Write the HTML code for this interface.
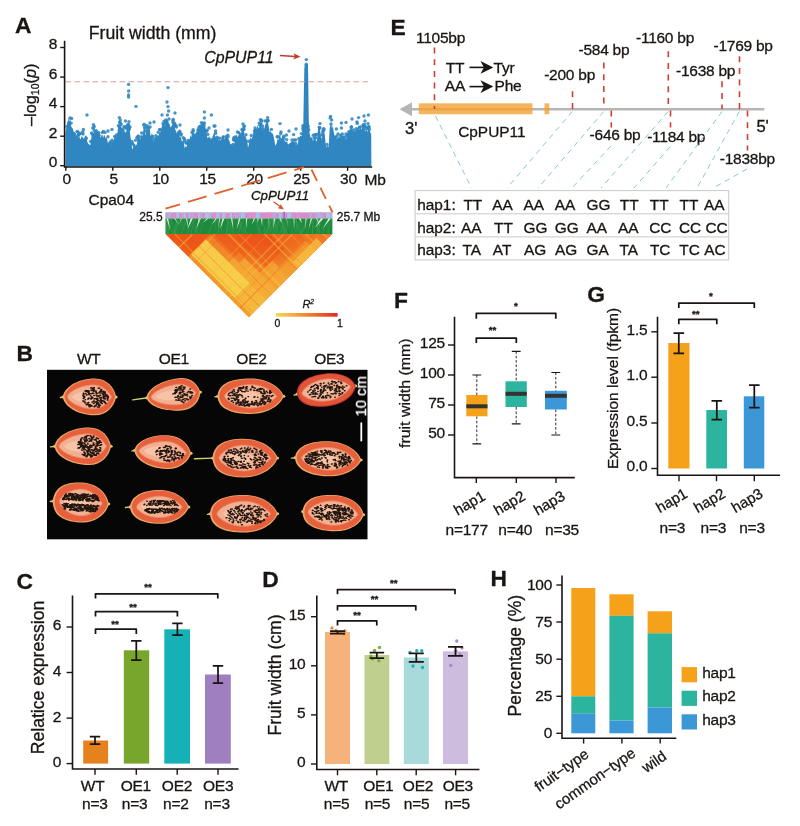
<!DOCTYPE html>
<html lang="en"><head><meta charset="utf-8"><title>CpPUP11 fruit width figure</title>
<style>
html,body{margin:0;padding:0;background:#fff}
body{width:800px;height:826px;overflow:hidden}
svg{display:block}
text{font-family:"Liberation Sans",Arial,Helvetica,sans-serif;fill:#1a1513;stroke:#1a1513;stroke-width:0.3px}
.b{font-weight:bold;font-size:22.8px}
.t{font-size:15.5px;letter-spacing:-0.25px}
.i{font-style:italic}
.ax{stroke:#1a1513;stroke-width:1.6;fill:none;stroke-linecap:square}
.tk{stroke:#1a1513;stroke-width:1.4;fill:none}
.br{stroke:#1a1513;stroke-width:1.75;fill:none;stroke-linejoin:round}
.eb{stroke:#1a1513;stroke-width:1.75;fill:none}
.st{font-size:11px;font-weight:bold}
</style></head><body>
<svg width="800" height="826" viewBox="0 0 800 826">
<rect width="800" height="826" fill="#fff"/>
<g id="panelA"><text class="b" x="15" y="33.2">A</text><text x="88.7" y="38.5" font-size="17.7">Fruit width (mm)</text><text transform="translate(35.6,126) rotate(-90)" font-size="16.3">–log<tspan font-size="10.5" dy="3.2">10</tspan><tspan dy="-3.2">(</tspan><tspan class="i">p</tspan>)</text><path d="M65.6 166.4L65.6 132.5L66.4 127.6L67.2 122.7L68 121.5L68.8 117.4L69.6 122.2L70.4 118L71.2 126.2L72 127.9L72.8 128.4L73.6 132.1L74.4 132.6L75.2 136.6L76 135.8L76.8 135.1L77.6 132.3L78.4 137.7L79.2 136.6L80 138.2L80.8 139.4L81.6 136L82.4 136.9L83.2 137.7L84 139.2L84.8 136.6L85.6 135.5L86.4 135.8L87.2 141.2L88 143.4L88.8 144L89.6 145L90.4 145L91.2 138.7L92 132.1L92.8 133.6L93.6 132.9L94.4 130.6L95.2 130.3L96 132.7L96.8 132.5L97.6 133.3L98.4 135L99.2 133.8L100 136.7L100.8 137.8L101.6 134.7L102.4 134.9L103.2 138L104 134.7L104.8 135.8L105.6 138.5L106.4 136.4L107.2 139.5L108 143.8L108.8 142.7L109.6 141L110.4 145.7L111.2 145.3L112 142.9L112.8 142.5L113.6 141.1L114.4 140L115.2 139L116 135.4L116.8 139.3L117.6 131.3L118.4 124L119.2 125L120 123.5L120.8 122.8L121.6 127.8L122.4 132.5L123.2 129.1L124 132.5L124.8 129.2L125.6 133.3L126.4 131L127.2 128.5L128 129.8L128.8 130.7L129.6 128.6L130.4 136.1L131.2 141.6L132 147.6L132.8 149.7L133.6 144.3L134.4 144.9L135.2 146.5L136 145.3L136.8 144.4L137.6 139.5L138.4 138.4L139.2 139.8L140 140.2L140.8 138.4L141.6 134.6L142.4 136.5L143.2 131.7L144 124.7L144.8 128.7L145.6 135.3L146.4 132.6L147.2 131.6L148 125.8L148.8 127.2L149.6 126.2L150.4 135.3L151.2 135.9L152 131.9L152.8 139.6L153.6 142.1L154.4 141.9L155.2 137.7L156 137.3L156.8 138L157.6 136.4L158.4 137.3L159.2 132.6L160 132.5L160.8 131L161.6 127.4L162.4 123.9L163.2 121.4L164 124.7L164.8 127.6L165.6 124.3L166.4 123.9L167.2 120L168 119.1L168.8 123.4L169.6 123.9L170.4 127.3L171.2 126.7L172 125.1L172.8 123.8L173.6 122.8L174.4 125L175.2 129.5L176 130.7L176.8 133.4L177.6 130.8L178.4 131.8L179.2 133L180 137.9L180.8 136.2L181.6 140.4L182.4 143.2L183.2 141.3L184 143.9L184.8 148.5L185.6 145.8L186.4 147.4L187.2 143.6L188 141.6L188.8 138.6L189.6 139.8L190.4 135.3L191.2 137.5L192 132.3L192.8 132L193.6 133.2L194.4 134L195.2 136.1L196 132.6L196.8 134L197.6 127.6L198.4 127.8L199.2 131.9L200 128.2L200.8 126.5L201.6 127L202.4 125.9L203.2 123.6L204 126.5L204.8 126L205.6 128.1L206.4 132.1L207.2 137.1L208 138.4L208.8 136.3L209.6 136.7L210.4 139.9L211.2 139.9L212 138.4L212.8 136L213.6 134.1L214.4 131.6L215.2 136.5L216 138.1L216.8 139.2L217.6 138.5L218.4 140.6L219.2 142.6L220 139.6L220.8 141.5L221.6 136.3L222.4 135.5L223.2 135L224 135.8L224.8 139.8L225.6 136.3L226.4 136.9L227.2 135.5L228 138.3L228.8 139.5L229.6 141.2L230.4 144.3L231.2 143.7L232 145L232.8 145L233.6 144L234.4 143.6L235.2 139.1L236 136.6L236.8 134L237.6 137.6L238.4 135.7L239.2 131.6L240 132.4L240.8 133.5L241.6 131.8L242.4 131.8L243.2 128L244 131.7L244.8 135.7L245.6 136.3L246.4 139.3L247.2 139.8L248 147.7L248.8 144.4L249.6 139.9L250.4 136.9L251.2 139.3L252 138.1L252.8 135.7L253.6 134.4L254.4 134.7L255.2 131.4L256 129.8L256.8 129L257.6 124.6L258.4 128.6L259.2 127.3L260 125.2L260.8 123.6L261.6 127.5L262.4 130.8L263.2 127.5L264 130.1L264.8 126.5L265.6 123.7L266.4 122.1L267.2 120.1L268 122.8L268.8 126.9L269.6 132L270.4 131.3L271.2 132.1L272 133.7L272.8 133.2L273.6 136.6L274.4 139.9L275.2 145.8L276 144.6L276.8 142.9L277.6 138.5L278.4 140.2L279.2 135.7L280 133.9L280.8 138.1L281.6 138.7L282.4 135.2L283.2 135.1L284 140.1L284.8 140.4L285.6 142L286.4 141.7L287.2 141.3L288 145.5L288.8 148.6L289.6 144.5L290.4 142.7L291.2 141.7L292 141.6L292.8 140.2L293.6 141.5L294.4 143.1L295.2 142.5L296 145.8L296.8 141.7L297.6 145.2L298.4 139.7L299.2 137.9L300 136.3L300.8 135.5L301.6 136.6L302.4 131.7L303.2 130.2L304 84L304.8 64L305.6 64L306.4 64L307.2 64L308 64L308.8 120.4L309.6 133.6L310.4 137.1L311.2 138.3L312 135.8L312.8 140.6L313.6 140.2L314.4 137.4L315.2 137.4L316 140.7L316.8 141.4L317.6 134.6L318.4 125.3L319.2 127L320 129.2L320.8 136.1L321.6 139.5L322.4 132.1L323.2 135L324 131L324.8 135.5L325.6 143.4L326.4 147.2L327.2 146.3L328 145.1L328.8 147.5L329.6 129.5L330.4 124.1L331.2 123.5L332 128.6L332.8 125.6L333.6 131.6L334.4 135.2L335.2 141.6L336 138.9L336.8 139.4L337.6 139L338.4 141.2L339.2 141.2L340 136.1L340.8 136.2L341.6 139L342.4 136.5L343.2 140L344 133.4L344.8 140.4L345.6 138.8L346.4 138.8L347.2 133.8L348 132.7L348.8 132.7L349.6 131.4L350.4 128.6L351.2 129.9L352 129.8L352.8 131.3L353.6 135.5L354.4 130.8L355.2 131.3L356 128.8L356.8 128.6L357.6 129.9L358.4 124.5L359.2 130L360 128.9L360.8 126.6L361.6 130.1L362.4 126.9L363.2 127.5L364 126.3L364.8 131.5L365.6 130.2L366.4 129.6L367.2 132.3L368 128.9L368.8 130.3L369.6 129.4L370.4 133L371.2 133.8L371.4 166.4 Z" fill="#2f86c0"/><g fill="#2f86c0" fill-opacity="0.88"><circle cx="128.6" cy="84.4" r="1.7"/><circle cx="128.6" cy="91" r="1.7"/><circle cx="128.6" cy="95" r="1.7"/><circle cx="128.6" cy="97" r="1.7"/><circle cx="136" cy="106.4" r="1.7"/><circle cx="168" cy="87.6" r="1.7"/><circle cx="167" cy="102" r="1.7"/><circle cx="168" cy="106.6" r="1.7"/><circle cx="168.6" cy="111" r="1.7"/><circle cx="175" cy="113" r="1.7"/><circle cx="162" cy="115" r="1.7"/><circle cx="87" cy="115" r="1.7"/><circle cx="70" cy="118" r="1.7"/><circle cx="71.6" cy="118.4" r="1.7"/><circle cx="119.4" cy="117.6" r="1.7"/><circle cx="125.4" cy="121" r="1.7"/><circle cx="129" cy="121.6" r="1.7"/><circle cx="93.4" cy="124.6" r="1.7"/><circle cx="93.4" cy="128" r="1.7"/><circle cx="83.4" cy="129.4" r="1.7"/><circle cx="112" cy="129.4" r="1.7"/><circle cx="108" cy="131" r="1.7"/><circle cx="154" cy="122" r="1.7"/><circle cx="150" cy="123" r="1.7"/><circle cx="144.4" cy="124.4" r="1.7"/><circle cx="180" cy="125" r="1.7"/><circle cx="204.4" cy="112" r="1.7"/><circle cx="211.4" cy="115" r="1.7"/><circle cx="204.4" cy="118" r="1.7"/><circle cx="204.4" cy="123" r="1.7"/><circle cx="214" cy="126" r="1.7"/><circle cx="209" cy="128" r="1.7"/><circle cx="200" cy="129" r="1.7"/><circle cx="184.6" cy="139" r="1.7"/><circle cx="181" cy="135" r="1.7"/><circle cx="167.4" cy="115" r="1.7"/><circle cx="169" cy="119" r="1.7"/><circle cx="173" cy="122.4" r="1.7"/><circle cx="166" cy="124" r="1.7"/><circle cx="163" cy="123.6" r="1.7"/><circle cx="69" cy="122.4" r="1.7"/><circle cx="120" cy="122.4" r="1.7"/><circle cx="130" cy="127" r="1.7"/><circle cx="126" cy="128" r="1.7"/><circle cx="267.6" cy="117.6" r="1.7"/><circle cx="267.6" cy="121" r="1.7"/><circle cx="280" cy="123.6" r="1.7"/><circle cx="243" cy="124" r="1.7"/><circle cx="244.4" cy="126" r="1.7"/><circle cx="261" cy="123.6" r="1.7"/><circle cx="228" cy="130" r="1.7"/><circle cx="296" cy="129" r="1.7"/><circle cx="289" cy="131" r="1.7"/><circle cx="281" cy="132" r="1.7"/><circle cx="286.4" cy="135" r="1.7"/><circle cx="293.6" cy="134.6" r="1.7"/><circle cx="320" cy="123.6" r="1.7"/><circle cx="320" cy="128" r="1.7"/><circle cx="330.6" cy="116.4" r="1.7"/><circle cx="331.6" cy="120" r="1.7"/><circle cx="331" cy="124" r="1.7"/><circle cx="336.4" cy="129" r="1.7"/><circle cx="341.4" cy="123" r="1.7"/><circle cx="346" cy="122.4" r="1.7"/><circle cx="341.4" cy="128" r="1.7"/><circle cx="352" cy="119" r="1.7"/><circle cx="358.6" cy="117.6" r="1.7"/><circle cx="364" cy="116" r="1.7"/><circle cx="368.4" cy="115" r="1.7"/><circle cx="357" cy="122" r="1.7"/><circle cx="363" cy="125" r="1.7"/><circle cx="368" cy="123.6" r="1.7"/><circle cx="365" cy="121" r="1.7"/><circle cx="351.6" cy="127" r="1.7"/><circle cx="346" cy="134" r="1.7"/><circle cx="338" cy="134" r="1.7"/><circle cx="215" cy="126" r="1.7"/><circle cx="306" cy="70" r="1.7"/><circle cx="306.2" cy="74.4" r="1.7"/><circle cx="306.2" cy="77" r="1.7"/><circle cx="306.4" cy="79.6" r="1.7"/><circle cx="306.2" cy="81.6" r="1.7"/><circle cx="306.4" cy="83.6" r="1.7"/><circle cx="306.4" cy="86" r="1.7"/><circle cx="306.2" cy="88" r="1.7"/><circle cx="306.3" cy="59.6" r="1.7"/><circle cx="306.3" cy="64.2" r="1.7"/><circle cx="306.3" cy="66.5" r="1.7"/><circle cx="306.3" cy="68.5" r="1.7"/><circle cx="306.3" cy="70.5" r="1.7"/><circle cx="306.3" cy="72.5" r="1.7"/><circle cx="306.3" cy="74.5" r="1.7"/><circle cx="306.3" cy="77" r="1.7"/><circle cx="306.3" cy="79.5" r="1.7"/><circle cx="306.3" cy="82" r="1.7"/><circle cx="306.3" cy="85" r="1.7"/><circle cx="306.3" cy="88" r="1.7"/><circle cx="306.3" cy="91" r="1.7"/><circle cx="306.3" cy="94" r="1.7"/><circle cx="306.3" cy="97" r="1.7"/><circle cx="166.2" cy="122.7" r="1.7"/><circle cx="176.5" cy="127.1" r="1.7"/><circle cx="90.6" cy="141.5" r="1.7"/><circle cx="295.3" cy="143.3" r="1.7"/><circle cx="86.3" cy="138.3" r="1.7"/><circle cx="234.5" cy="140.1" r="1.7"/><circle cx="364.4" cy="124.4" r="1.7"/><circle cx="366.7" cy="128.8" r="1.7"/><circle cx="92.1" cy="134.1" r="1.7"/><circle cx="218" cy="138.2" r="1.7"/><circle cx="202.4" cy="124.8" r="1.7"/><circle cx="193.2" cy="131.3" r="1.7"/><circle cx="271.4" cy="129.4" r="1.7"/><circle cx="323.9" cy="129.2" r="1.7"/><circle cx="103.4" cy="131.4" r="1.7"/><circle cx="155.9" cy="135.7" r="1.7"/><circle cx="179.9" cy="132.4" r="1.7"/><circle cx="127.1" cy="128.4" r="1.7"/><circle cx="141.1" cy="136.9" r="1.7"/><circle cx="335.2" cy="137.5" r="1.7"/><circle cx="165.7" cy="123.1" r="1.7"/><circle cx="368.1" cy="127.7" r="1.7"/><circle cx="136.9" cy="137.6" r="1.7"/><circle cx="265.1" cy="120.9" r="1.7"/><circle cx="97.7" cy="133" r="1.7"/><circle cx="315.4" cy="134.9" r="1.7"/><circle cx="344.4" cy="138.5" r="1.7"/><circle cx="155.8" cy="138.5" r="1.7"/><circle cx="124.2" cy="127" r="1.7"/><circle cx="243.8" cy="127" r="1.7"/><circle cx="179.7" cy="131.3" r="1.7"/><circle cx="203" cy="123.5" r="1.7"/><circle cx="302.9" cy="125.7" r="1.7"/><circle cx="98.7" cy="132.8" r="1.7"/><circle cx="254.9" cy="131.8" r="1.7"/><circle cx="178.6" cy="134.1" r="1.7"/><circle cx="128.6" cy="128" r="1.7"/><circle cx="248.7" cy="141.2" r="1.7"/><circle cx="128.4" cy="129.3" r="1.7"/><circle cx="166" cy="120.9" r="1.7"/><circle cx="122.8" cy="130" r="1.7"/><circle cx="128.4" cy="124.6" r="1.7"/><circle cx="233.1" cy="144.4" r="1.7"/><circle cx="97.4" cy="133.3" r="1.7"/><circle cx="233.7" cy="139.7" r="1.7"/><circle cx="94.3" cy="130.6" r="1.7"/><circle cx="277.9" cy="136.8" r="1.7"/><circle cx="152.7" cy="137.4" r="1.7"/><circle cx="356.2" cy="128.8" r="1.7"/><circle cx="238.7" cy="132.6" r="1.7"/><circle cx="193.1" cy="129.8" r="1.7"/><circle cx="369.4" cy="129.2" r="1.7"/><circle cx="126.5" cy="126.1" r="1.7"/><circle cx="128.5" cy="129.4" r="1.7"/><circle cx="340.5" cy="135.1" r="1.7"/><circle cx="315.8" cy="137.8" r="1.7"/><circle cx="334.8" cy="137.1" r="1.7"/><circle cx="116" cy="140.3" r="1.7"/><circle cx="234.2" cy="138.8" r="1.7"/><circle cx="343" cy="137.5" r="1.7"/><circle cx="255.6" cy="129.9" r="1.7"/><circle cx="219.9" cy="141.8" r="1.7"/><circle cx="152.7" cy="136.1" r="1.7"/><circle cx="347.8" cy="134.7" r="1.7"/><circle cx="215.6" cy="131" r="1.7"/><circle cx="360.3" cy="127" r="1.7"/><circle cx="105.1" cy="132.4" r="1.7"/><circle cx="363" cy="126.1" r="1.7"/><circle cx="82.8" cy="131.6" r="1.7"/><circle cx="184.4" cy="140.5" r="1.7"/><circle cx="255.1" cy="128" r="1.7"/><circle cx="115.3" cy="136.6" r="1.7"/><circle cx="134.1" cy="145.4" r="1.7"/><circle cx="323.7" cy="128.8" r="1.7"/><circle cx="122.2" cy="129.9" r="1.7"/><circle cx="188" cy="140.4" r="1.7"/><circle cx="183.1" cy="142.5" r="1.7"/><circle cx="141.7" cy="133" r="1.7"/><circle cx="339.2" cy="139.2" r="1.7"/><circle cx="237.4" cy="131.9" r="1.7"/><circle cx="78.2" cy="132.2" r="1.7"/><circle cx="102.4" cy="132.6" r="1.7"/><circle cx="233.7" cy="139.8" r="1.7"/><circle cx="159.6" cy="129.6" r="1.7"/><circle cx="243.6" cy="129.6" r="1.7"/><circle cx="266.8" cy="120.8" r="1.7"/><circle cx="199.8" cy="131.1" r="1.7"/><circle cx="254.6" cy="130.6" r="1.7"/><circle cx="138.1" cy="136.3" r="1.7"/><circle cx="303.6" cy="127.3" r="1.7"/><circle cx="121.2" cy="124.3" r="1.7"/><circle cx="99.1" cy="135.8" r="1.7"/><circle cx="197.4" cy="133" r="1.7"/><circle cx="200.9" cy="126.2" r="1.7"/><circle cx="79" cy="134.2" r="1.7"/><circle cx="91.6" cy="132.9" r="1.7"/><circle cx="302.8" cy="128.4" r="1.7"/><circle cx="83.1" cy="134" r="1.7"/><circle cx="181.4" cy="134.1" r="1.7"/><circle cx="108" cy="136.8" r="1.7"/><circle cx="369.2" cy="126.8" r="1.7"/><circle cx="314.2" cy="138" r="1.7"/><circle cx="364.8" cy="127" r="1.7"/><circle cx="357.2" cy="123.4" r="1.7"/><circle cx="116.8" cy="134.6" r="1.7"/><circle cx="349.3" cy="132.9" r="1.7"/><circle cx="173.2" cy="119.5" r="1.7"/><circle cx="114.8" cy="136.5" r="1.7"/><circle cx="150.1" cy="127" r="1.7"/><circle cx="110.2" cy="141.9" r="1.7"/><circle cx="346.1" cy="136.3" r="1.7"/><circle cx="146.5" cy="130.4" r="1.7"/><circle cx="163.5" cy="126.8" r="1.7"/><circle cx="121.9" cy="129.7" r="1.7"/><circle cx="351.1" cy="127" r="1.7"/><circle cx="338.6" cy="139.2" r="1.7"/><circle cx="305" cy="128.7" r="1.7"/><circle cx="227.8" cy="135.1" r="1.7"/><circle cx="175.9" cy="125.4" r="1.7"/><circle cx="235.3" cy="137" r="1.7"/><circle cx="334.7" cy="138.7" r="1.7"/><circle cx="368.3" cy="127" r="1.7"/><circle cx="186.4" cy="143.2" r="1.7"/><circle cx="147" cy="125.6" r="1.7"/><circle cx="242" cy="129.5" r="1.7"/><circle cx="298.9" cy="138.6" r="1.7"/><circle cx="120.3" cy="120" r="1.7"/><circle cx="81.3" cy="133.2" r="1.7"/><circle cx="143.7" cy="124.9" r="1.7"/><circle cx="365.6" cy="126.6" r="1.7"/><circle cx="268.2" cy="120.5" r="1.7"/><circle cx="67.1" cy="126.4" r="1.7"/><circle cx="112" cy="140.3" r="1.7"/><circle cx="197.9" cy="130" r="1.7"/><circle cx="338.7" cy="139.3" r="1.7"/><circle cx="135.6" cy="140.2" r="1.7"/><circle cx="73.4" cy="133.1" r="1.7"/><circle cx="174.4" cy="124.1" r="1.7"/><circle cx="175.1" cy="126.1" r="1.7"/><circle cx="243.9" cy="129.3" r="1.7"/><circle cx="128.6" cy="125.9" r="1.7"/><circle cx="210.9" cy="139.6" r="1.7"/><circle cx="351.1" cy="129.7" r="1.7"/><circle cx="112" cy="143.4" r="1.7"/><circle cx="260.5" cy="119.6" r="1.7"/><circle cx="304.2" cy="126.6" r="1.7"/><circle cx="146.9" cy="132" r="1.7"/><circle cx="262.5" cy="126" r="1.7"/><circle cx="173" cy="120.4" r="1.7"/><circle cx="201.4" cy="122.6" r="1.7"/><circle cx="289.4" cy="146.3" r="1.7"/><circle cx="341.1" cy="136.8" r="1.7"/><circle cx="228.1" cy="136.8" r="1.7"/><circle cx="138.8" cy="139.8" r="1.7"/><circle cx="303.2" cy="130.6" r="1.7"/><circle cx="234" cy="137.4" r="1.7"/><circle cx="109.8" cy="143.5" r="1.7"/><circle cx="251.3" cy="135.5" r="1.7"/><circle cx="261.5" cy="120.9" r="1.7"/><circle cx="119.7" cy="122.2" r="1.7"/><circle cx="157.8" cy="136.9" r="1.7"/><circle cx="336.8" cy="136.3" r="1.7"/><circle cx="283.9" cy="138.2" r="1.7"/><circle cx="323.1" cy="130.8" r="1.7"/><circle cx="207.9" cy="134.4" r="1.7"/><circle cx="204.1" cy="125.8" r="1.7"/><circle cx="98.6" cy="134.9" r="1.7"/><circle cx="78.4" cy="135.4" r="1.7"/><circle cx="294.3" cy="140" r="1.7"/><circle cx="323.4" cy="130.3" r="1.7"/><circle cx="147.4" cy="127" r="1.7"/><circle cx="199.1" cy="127.2" r="1.7"/><circle cx="225.6" cy="136.6" r="1.7"/><circle cx="261.6" cy="120.5" r="1.7"/><circle cx="132.5" cy="143.8" r="1.7"/><circle cx="71.2" cy="123.1" r="1.7"/><circle cx="138.3" cy="136.2" r="1.7"/><circle cx="353.6" cy="130" r="1.7"/><circle cx="165.9" cy="119.9" r="1.7"/><circle cx="166.4" cy="122.7" r="1.7"/><circle cx="342.3" cy="133.9" r="1.7"/><circle cx="277.1" cy="136.8" r="1.7"/><circle cx="364" cy="126.7" r="1.7"/><circle cx="321.7" cy="134.9" r="1.7"/><circle cx="327.1" cy="144.4" r="1.7"/><circle cx="286.7" cy="139.6" r="1.7"/><circle cx="160.1" cy="129.5" r="1.7"/><circle cx="255.8" cy="131.5" r="1.7"/><circle cx="343.3" cy="137.3" r="1.7"/><circle cx="74.8" cy="134.7" r="1.7"/><circle cx="348.8" cy="131.8" r="1.7"/><circle cx="109.7" cy="144.4" r="1.7"/><circle cx="79.3" cy="134.1" r="1.7"/><circle cx="259.2" cy="122.9" r="1.7"/><circle cx="290.4" cy="144.8" r="1.7"/><circle cx="246" cy="134.8" r="1.7"/><circle cx="315" cy="134.7" r="1.7"/><circle cx="337.4" cy="140.6" r="1.7"/><circle cx="330.2" cy="118" r="1.7"/><circle cx="353.5" cy="133.7" r="1.7"/><circle cx="129.1" cy="129.4" r="1.7"/><circle cx="77.1" cy="131.4" r="1.7"/><circle cx="313.3" cy="135.2" r="1.7"/><circle cx="317.3" cy="134.2" r="1.7"/><circle cx="153.9" cy="140.3" r="1.7"/><circle cx="96.3" cy="130.6" r="1.7"/><circle cx="128.9" cy="128" r="1.7"/><circle cx="195.3" cy="134.9" r="1.7"/><circle cx="144.6" cy="127.6" r="1.7"/><circle cx="284" cy="136.2" r="1.7"/><circle cx="164.1" cy="121.2" r="1.7"/><circle cx="219.6" cy="138.2" r="1.7"/><circle cx="254.4" cy="133.7" r="1.7"/><circle cx="192" cy="132.4" r="1.7"/><circle cx="301.4" cy="133.6" r="1.7"/><circle cx="280.7" cy="133.8" r="1.7"/><circle cx="132.4" cy="143.4" r="1.7"/><circle cx="94.2" cy="126.5" r="1.7"/><circle cx="118.4" cy="125.7" r="1.7"/><circle cx="128" cy="124.4" r="1.7"/><circle cx="363.7" cy="129.3" r="1.7"/><circle cx="215.7" cy="133.2" r="1.7"/><circle cx="308.7" cy="129.8" r="1.7"/><circle cx="216.9" cy="137.2" r="1.7"/><circle cx="319.3" cy="127.4" r="1.7"/><circle cx="353.3" cy="132.4" r="1.7"/><circle cx="131.8" cy="141.4" r="1.7"/><circle cx="218" cy="141.6" r="1.7"/><circle cx="260" cy="125.2" r="1.7"/><circle cx="306" cy="125.6" r="1.7"/><circle cx="305.7" cy="125.8" r="1.7"/><circle cx="174.6" cy="123.1" r="1.7"/><circle cx="186.5" cy="142.4" r="1.7"/><circle cx="92.8" cy="128.1" r="1.7"/><circle cx="74.2" cy="133.9" r="1.7"/><circle cx="146.6" cy="127.7" r="1.7"/><circle cx="218.9" cy="142.4" r="1.7"/><circle cx="335.2" cy="139.6" r="1.7"/><circle cx="206.6" cy="131.2" r="1.7"/><circle cx="295.8" cy="139.9" r="1.7"/><circle cx="262.9" cy="128.7" r="1.7"/><circle cx="165.8" cy="124.4" r="1.7"/><circle cx="322.7" cy="132.4" r="1.7"/><circle cx="292" cy="140" r="1.7"/><circle cx="199.9" cy="126.5" r="1.7"/><circle cx="242.6" cy="130.5" r="1.7"/><circle cx="207" cy="130.2" r="1.7"/><circle cx="138.9" cy="139" r="1.7"/><circle cx="158.2" cy="132.2" r="1.7"/><circle cx="322.9" cy="135" r="1.7"/><circle cx="114" cy="141.5" r="1.7"/><circle cx="165.8" cy="122.2" r="1.7"/><circle cx="115.5" cy="139" r="1.7"/><circle cx="124.1" cy="127" r="1.7"/><circle cx="288" cy="145.7" r="1.7"/><circle cx="359" cy="127.9" r="1.7"/><circle cx="183.3" cy="137.8" r="1.7"/><circle cx="308.1" cy="126.2" r="1.7"/><circle cx="198.7" cy="131.1" r="1.7"/><circle cx="260.4" cy="124.3" r="1.7"/></g><path d="M65.5 81.7H371.5" stroke="#d6a09c" stroke-width="1.1" stroke-dasharray="5.6 3.4" fill="none"/><path class="ax" d="M64.6 41.5V167H371.4"/><path class="tk" d="M60.2 165.7H64.6"/><text class="t" text-anchor="end" x="57" y="167.3">0</text><path class="tk" d="M60.2 136.2H64.6"/><text class="t" text-anchor="end" x="57" y="137.8">2</text><path class="tk" d="M60.2 106.6H64.6"/><text class="t" text-anchor="end" x="57" y="108.2">4</text><path class="tk" d="M60.2 77.1H64.6"/><text class="t" text-anchor="end" x="57" y="78.7">6</text><path class="tk" d="M60.2 47.5H64.6"/><text class="t" text-anchor="end" x="57" y="49.1">8</text><path class="tk" d="M65.8 167V170.8"/><text class="t" text-anchor="middle" x="66.6" y="184.4">0</text><path class="tk" d="M112.8 167V170.8"/><text class="t" text-anchor="middle" x="113.6" y="184.4">5</text><path class="tk" d="M159.8 167V170.8"/><text class="t" text-anchor="middle" x="160.6" y="184.4">10</text><path class="tk" d="M206.7 167V170.8"/><text class="t" text-anchor="middle" x="207.5" y="184.4">15</text><path class="tk" d="M253.7 167V170.8"/><text class="t" text-anchor="middle" x="254.5" y="184.4">20</text><path class="tk" d="M300.7 167V170.8"/><text class="t" text-anchor="middle" x="301.5" y="184.4">25</text><path class="tk" d="M347.6 167V170.8"/><text class="t" text-anchor="middle" x="348.4" y="184.4">30</text><text class="t" x="364.5" y="184.6">Mb</text><text x="88.5" y="204.8" font-size="15.45">Cpa04</text><text class="i" x="204.2" y="63.4" font-size="15.9">CpPUP11</text><path d="M280 55.4L295.5 56.4" stroke="#c8372d" stroke-width="1.5" fill="none"/><path d="M300.5 56.7L293.6 53.2L295 56.4L293.2 59.4Z" fill="#c8372d"/><path d="M304 167.2L165.5 208.6" stroke="#e0622c" stroke-width="1.8" stroke-dasharray="19.5 8.3" stroke-dashoffset="9.5" fill="none"/><path d="M311.5 169.5L332.6 212.5" stroke="#e0622c" stroke-width="1.8" stroke-dasharray="12.6 7.5" fill="none"/><text class="i" x="251" y="200.4" font-size="13.3">CpPUP11</text><path d="M273.6 201.8L280.5 206.8" stroke="#d9532c" stroke-width="1.3" fill="none"/><path d="M284 209.5L277.6 208.2L279.9 206.6L280.6 203.9Z" fill="#d9532c"/><rect x="165.5" y="212.4" width="166.9" height="6.3" fill="#d58ec9"/><rect x="165.5" y="212.4" width="1.2" height="6.3" fill="#b5b0e0"/><rect x="166.7" y="212.4" width="0.8" height="6.3" fill="#b5b0e0"/><rect x="168" y="212.4" width="3" height="6.3" fill="#b5b0e0"/><rect x="174" y="212.4" width="0.8" height="6.3" fill="#b9a7dc"/><rect x="176.3" y="212.4" width="3" height="6.3" fill="#a9c3e6"/><rect x="182.3" y="212.4" width="0.8" height="6.3" fill="#a9c3e6"/><rect x="183.6" y="212.4" width="2.2" height="6.3" fill="#a9c3e6"/><rect x="188.8" y="212.4" width="1.2" height="6.3" fill="#a9c3e6"/><rect x="190.5" y="212.4" width="4" height="6.3" fill="#b9a7dc"/><rect x="194.5" y="212.4" width="2.2" height="6.3" fill="#e08fcb"/><rect x="198.2" y="212.4" width="1.6" height="6.3" fill="#a9c3e6"/><rect x="199.8" y="212.4" width="2.2" height="6.3" fill="#b9a7dc"/><rect x="205" y="212.4" width="4" height="6.3" fill="#a9c3e6"/><rect x="209.5" y="212.4" width="1.6" height="6.3" fill="#9fc6e8"/><rect x="214.1" y="212.4" width="2.2" height="6.3" fill="#e08fcb"/><rect x="216.3" y="212.4" width="3" height="6.3" fill="#9fc6e8"/><rect x="222.3" y="212.4" width="3" height="6.3" fill="#a9c3e6"/><rect x="229.8" y="212.4" width="2.2" height="6.3" fill="#9fc6e8"/><rect x="235" y="212.4" width="0.8" height="6.3" fill="#a9c3e6"/><rect x="237.3" y="212.4" width="3" height="6.3" fill="#b9a7dc"/><rect x="240.8" y="212.4" width="4" height="6.3" fill="#9fc6e8"/><rect x="248.3" y="212.4" width="3" height="6.3" fill="#e08fcb"/><rect x="251.8" y="212.4" width="4" height="6.3" fill="#e08fcb"/><rect x="255.8" y="212.4" width="4" height="6.3" fill="#9fc6e8"/><rect x="267.3" y="212.4" width="4" height="6.3" fill="#e08fcb"/><rect x="271.8" y="212.4" width="4" height="6.3" fill="#b9a7dc"/><rect x="278.8" y="212.4" width="3" height="6.3" fill="#9fc6e8"/><rect x="281.8" y="212.4" width="4" height="6.3" fill="#c79ad4"/><rect x="287.3" y="212.4" width="4" height="6.3" fill="#a9c3e6"/><rect x="292.8" y="212.4" width="1.6" height="6.3" fill="#e08fcb"/><rect x="297.4" y="212.4" width="0.8" height="6.3" fill="#a9c3e6"/><rect x="298.2" y="212.4" width="2.2" height="6.3" fill="#e08fcb"/><rect x="309.1" y="212.4" width="3" height="6.3" fill="#b9a7dc"/><rect x="315.1" y="212.4" width="2.2" height="6.3" fill="#b9a7dc"/><rect x="317.8" y="212.4" width="1.2" height="6.3" fill="#9fc6e8"/><rect x="319" y="212.4" width="4" height="6.3" fill="#b9a7dc"/><rect x="326" y="212.4" width="4" height="6.3" fill="#a9c3e6"/><rect x="330.5" y="212.4" width="1.2" height="6.3" fill="#a9c3e6"/><path d="M284.2 211.5V219" stroke="#8e3f9e" stroke-width="0.8"/><rect x="165.5" y="218.6" width="166.9" height="15.4" fill="#1d8a3c"/><path d="M166.5 218.5L168.2 218.5L170.2 230.4ZM174.4 218.5L175.4 218.5L179.9 225.9ZM180.9 218.5L181.8 218.5L179.4 224.6ZM186 218.5L187.2 218.5L188.2 227.7ZM190.7 218.5L192.8 218.5L187.3 229.4ZM198.8 218.5L200.9 218.5L196.3 228.9ZM206.9 218.5L208.5 218.5L202.8 222.7ZM215.3 218.5L216.9 218.5L212.1 224.6ZM219.2 218.5L220.1 218.5L218.1 228.8ZM222.4 218.5L224.4 218.5L220.1 228.9ZM230.8 218.5L232.4 218.5L233.3 228.9ZM238.8 218.5L240.6 218.5L236.7 229.3ZM245.9 218.5L247.3 218.5L246 228.5ZM253.7 218.5L255.1 218.5L251.8 224.7ZM257.4 218.5L258.7 218.5L257.7 223.1ZM261 218.5L262.4 218.5L262.1 226.6ZM268.6 218.5L269.1 218.5L268.5 229.3ZM273.7 218.5L275.3 218.5L273.3 229.3ZM279.2 218.5L281.3 218.5L281.6 223.2ZM286.3 218.5L286.8 218.5L288.4 227.5ZM293.5 218.5L294.5 218.5L294.1 230.5ZM298.7 218.5L300.7 218.5L301.9 222.9ZM305.6 218.5L306.7 218.5L304.8 229.5ZM310.8 218.5L312.2 218.5L308.6 228.8ZM316.1 218.5L317.3 218.5L320 227ZM320.5 218.5L323.4 218.5L314.8 228.1ZM328.5 218.5L330.8 218.5L322.7 228.7Z" fill="#fff" fill-opacity="0.9"/><path d="M173.1 233.8L177.1 218.8M312.5 233.8L313.4 218.8M174.7 233.8L171.1 218.8M167.5 233.8L166 218.8M318.4 233.8L320.4 218.8M275 233.8L280.2 218.8M316.5 233.8L318.5 218.8M268.2 233.8L270.5 218.8M281.3 233.8L283.1 218.8M278.8 233.8L273.6 218.8M276.5 233.8L275.7 218.8M292.3 233.8L285.1 218.8M196.4 233.8L188.1 218.8M294.2 233.8L301.7 218.8M274.6 233.8L272.3 218.8M302.1 233.8L307.3 218.8M259.2 233.8L254.8 218.8M216.3 233.8L214.9 218.8M219 233.8L217.8 218.8M272.3 233.8L280.1 218.8M175.5 233.8L176.7 218.8M173 233.8L166.1 218.8M300.1 233.8L301.5 218.8M318 233.8L317 218.8M168.8 233.8L166.8 218.8M264.1 233.8L272 218.8M328.2 233.8L327.8 218.8M234.5 233.8L227.3 218.8M272.8 233.8L267.6 218.8M191.5 233.8L182.8 218.8M167.3 233.8L170.6 218.8M186.6 233.8L195 218.8M181 233.8L187.7 218.8M187.8 233.8L179.1 218.8M285.1 233.8L280.5 218.8M287.5 233.8L281.8 218.8M174.8 233.8L179.7 218.8M284.2 233.8L290.6 218.8M286.8 233.8L279.3 218.8M270.2 233.8L273.9 218.8M242.4 233.8L250.2 218.8M208.4 233.8L216.8 218.8M284.8 233.8L276 218.8M168.9 233.8L171.6 218.8M301.3 233.8L293.7 218.8M217.8 233.8L221.9 218.8M193.9 233.8L200.4 218.8M246.7 233.8L238.8 218.8M227.1 233.8L228.5 218.8M238.8 233.8L242 218.8M190.4 233.8L195.7 218.8M226.4 233.8L229 218.8M270.3 233.8L268.9 218.8M230.1 233.8L235.3 218.8M322.3 233.8L327.4 218.8M260 233.8L256.2 218.8M176.5 233.8L185 218.8M282.5 233.8L288.4 218.8M221.3 233.8L223.2 218.8M327.7 233.8L331.9 218.8M265.6 233.8L262.2 218.8M237.2 233.8L244.2 218.8M228.6 233.8L231.9 218.8M265.7 233.8L272.9 218.8M299.7 233.8L295.8 218.8M166.8 233.8L166 218.8M236.2 233.8L237.7 218.8M301.1 233.8L308 218.8M173.5 233.8L179.5 218.8M300.4 233.8L307 218.8M260.8 233.8L256.7 218.8M306.9 233.8L312.4 218.8M279.4 233.8L286.8 218.8M223.7 233.8L216.2 218.8M257.8 233.8L263.2 218.8M199.6 233.8L204.1 218.8M320.1 233.8L315.4 218.8M266.6 233.8L269.8 218.8M243.2 233.8L238 218.8M208.5 233.8L213 218.8M297 233.8L296.3 218.8M181 233.8L186.5 218.8M293.8 233.8L289 218.8M262.1 233.8L269.2 218.8M312.5 233.8L312.8 218.8M245.1 233.8L246.7 218.8M197.7 233.8L192.2 218.8M196.3 233.8L199.9 218.8M226.3 233.8L227.5 218.8M232.9 233.8L233.2 218.8" stroke="#58b06c" stroke-width="0.4" stroke-opacity="0.6" fill="none"/><defs><clipPath id="tri"><path d="M165.5 233.9L332.4 233.9L248.9 317.4Z"/></clipPath><linearGradient id="hg" x1="0" y1="0" x2="0" y2="1"><stop offset="0" stop-color="#ec5418"/><stop offset="0.25" stop-color="#ef7220"/><stop offset="0.6" stop-color="#f3942a"/><stop offset="1" stop-color="#f5b238"/></linearGradient><linearGradient id="lg" x1="0" y1="0" x2="1" y2="0"><stop offset="0" stop-color="#f4d95c"/><stop offset="0.3" stop-color="#f5a93a"/><stop offset="0.65" stop-color="#ee6a24"/><stop offset="1" stop-color="#dc2a24"/></linearGradient></defs><g clip-path="url(#tri)"><rect x="165.5" y="233.9" width="166.9" height="84.4" fill="url(#hg)"/><path d="M190.5 253.9L205.6 238.9L249.8 283.1L234.8 298.2 Z" fill="#f7d24c" fill-opacity="0.92"/><path d="M234.8 298.2L249.8 283.1L266.5 299.8L251.5 314.8 Z" fill="#f5bd3e" fill-opacity="0.8"/><path d="M173.8 242.2L176.3 239.7L251.5 314.8L248.9 317.4 Z" fill="#f19a2c" fill-opacity="0.8"/><path d="M228.9 262.3L238.9 252.3L276.5 289.8L266.5 299.8 Z" fill="#f5b43a" fill-opacity="0.7"/><path d="M259.8 273.1L272.3 260.6L289 277.3L276.5 289.8 Z" fill="#f5b43a" fill-opacity="0.6"/><path d="M205.6 238.9L210.6 233.9L233.9 257.3L228.9 262.3 Z" fill="#f29a2e" fill-opacity="0.6"/><path d="M165.5 233.9L182.2 217.2L204.7 239.7L188 256.4 Z" fill="#ec5418" fill-opacity="0.8"/><path d="M210.6 233.9L239.8 204.7L269 233.9L239.8 263.1 Z" fill="#ee5f1c" fill-opacity="0.55"/><path d="M236.4 238.1L263.1 211.4L292.3 240.6L265.6 267.3 Z" fill="#ea4c18" fill-opacity="0.45"/><path d="M269 233.9L284 218.9L305.7 240.6L290.7 255.6 Z" fill="#f07a24" fill-opacity="0.5"/><path d="M299 233.9L315.7 217.2L332.4 233.9L315.7 250.6 Z" fill="#f08a28" fill-opacity="0.6"/><path d="M279 267.3L305.7 240.6L315.7 250.6L289 277.3 Z" fill="#f4a634" fill-opacity="0.7"/><path d="M293.2 261.4L316.5 238.1L322.4 243.9L299 267.3 Z" fill="#f6c446" fill-opacity="0.7"/><path d="M179.1 247.5L192.7 233.9L193 234.2L179.4 247.8 Z" fill="#e84a16" fill-opacity="0.5"/><path d="M228.4 233.9L228.9 233.4L280.9 285.4L280.4 285.9 Z" fill="#f8d65a" fill-opacity="0.35"/><path d="M173.7 233.9L174.2 233.4L253.6 312.7L253.1 313.2 Z" fill="#f29030" fill-opacity="0.65"/><path d="M169.9 238.3L174.2 233.9L175.1 234.7L170.7 239.1 Z" fill="#e84a16" fill-opacity="0.65"/><path d="M188.1 256.5L210.8 233.9L211.3 234.4L188.6 257 Z" fill="#e84a16" fill-opacity="0.35"/><path d="M228.6 297L291.8 233.9L292.6 234.7L229.5 297.9 Z" fill="#f7c548" fill-opacity="0.5"/><path d="M223.1 233.9L223.5 233.6L278.1 288.2L277.8 288.5 Z" fill="#e84a16" fill-opacity="0.35"/><path d="M174.4 233.9L174.9 233.4L253.9 312.4L253.4 312.9 Z" fill="#f6b63e" fill-opacity="0.5"/><path d="M304.3 233.9L304.7 233.6L318.7 247.6L318.4 247.9 Z" fill="#f29030" fill-opacity="0.65"/><path d="M176.8 245.2L188.1 233.9L188.4 234.2L177.1 245.5 Z" fill="#ee5a1c" fill-opacity="0.5"/><path d="M271.5 233.9L272.3 233.1L302.8 263.5L301.9 264.4 Z" fill="#f29030" fill-opacity="0.5"/><path d="M305 233.9L305.5 233.4L319.2 247.1L318.7 247.6 Z" fill="#f7c548" fill-opacity="0.65"/><path d="M170.3 238.7L175 233.9L175.5 234.4L170.8 239.2 Z" fill="#ee5a1c" fill-opacity="0.35"/><path d="M239.6 308L313.8 233.9L314.1 234.2L240 308.4 Z" fill="#ee5a1c" fill-opacity="0.65"/><path d="M272.5 233.9L273 233.4L302.9 263.4L302.4 263.9 Z" fill="#f8d65a" fill-opacity="0.35"/><path d="M289.8 233.9L290.1 233.6L311.4 254.9L311.1 255.2 Z" fill="#f6b63e" fill-opacity="0.65"/><path d="M263.6 233.9L264.4 233.1L298.8 267.5L298 268.3 Z" fill="#f8d65a" fill-opacity="0.5"/><path d="M210 233.9L210.4 233.6L271.5 294.8L271.2 295.1 Z" fill="#ee5a1c" fill-opacity="0.5"/><path d="M239.6 233.9L239.9 233.6L286.3 280L286 280.3 Z" fill="#f6b63e" fill-opacity="0.35"/><path d="M315.1 233.9L315.4 233.6L324.1 242.2L323.7 242.6 Z" fill="#f7c548" fill-opacity="0.35"/><path d="M216.7 285.1L268 233.9L268.5 234.4L217.2 285.6 Z" fill="#f6b63e" fill-opacity="0.35"/><path d="M322.3 233.9L322.8 233.4L327.9 238.4L327.4 238.9 Z" fill="#f8d65a" fill-opacity="0.65"/><path d="M324.6 233.9L325.1 233.4L329 237.3L328.5 237.8 Z" fill="#f7c548" fill-opacity="0.5"/><path d="M227.5 233.9L228 233.4L280.4 285.9L279.9 286.4 Z" fill="#f7c548" fill-opacity="0.65"/><path d="M224.3 292.7L283.2 233.9L284 234.7L225.2 293.6 Z" fill="#f7c548" fill-opacity="0.5"/><path d="M211.5 233.9L212 233.4L272.5 293.8L272 294.3 Z" fill="#f7c548" fill-opacity="0.35"/><path d="M260.3 233.9L260.8 233.4L296.9 269.4L296.4 269.9 Z" fill="#ee5a1c" fill-opacity="0.35"/><path d="M186.3 233.9L186.8 233.4L259.9 306.4L259.4 306.9 Z" fill="#e84a16" fill-opacity="0.35"/><path d="M208.3 276.7L251.1 233.9L251.9 234.7L209.1 277.5 Z" fill="#f6b63e" fill-opacity="0.35"/><path d="M234.1 302.5L302.7 233.9L303 234.2L234.4 302.8 Z" fill="#ee5a1c" fill-opacity="0.35"/><path d="M238.1 233.9L238.6 233.4L285.7 280.6L285.2 281.1 Z" fill="#f7c548" fill-opacity="0.35"/><path d="M190.4 258.8L215.2 233.9L215.5 234.2L190.7 259.1 Z" fill="#f8d65a" fill-opacity="0.65"/><path d="M178.7 247.1L192 233.9L192.8 234.7L179.6 248 Z" fill="#f8d65a" fill-opacity="0.5"/><path d="M194.5 262.9L223.5 233.9L223.8 234.2L194.8 263.2 Z" fill="#e84a16" fill-opacity="0.35"/></g><text x="139.3" y="220.5" font-size="12">25.5</text><text x="336.8" y="220.5" font-size="12">25.7 Mb</text><rect x="275.8" y="313" width="61.8" height="3.7" fill="url(#lg)"/><text class="i" x="302.4" y="308" font-size="11">R<tspan font-size="6.5" dy="-3.6">2</tspan></text><text x="277.4" y="327.2" font-size="10.5" text-anchor="middle">0</text><text x="339.8" y="327.2" font-size="10.5" text-anchor="middle">1</text></g>
<g id="panelB"><text class="b" x="16.6" y="361.2">B</text><text class="t" text-anchor="middle" x="88.8" y="364">WT</text><text class="t" text-anchor="middle" x="173.8" y="364">OE1</text><text class="t" text-anchor="middle" x="251.5" y="364">OE2</text><text class="t" text-anchor="middle" x="329.3" y="364">OE3</text><defs><filter id="soft" x="-5%" y="-5%" width="110%" height="110%"><feGaussianBlur stdDeviation="0.55"/></filter></defs><rect x="47" y="369.8" width="320.5" height="169.5" fill="#060606"/><g filter="url(#soft)"><g transform="rotate(0 89.5 396.9)"><path d="M63.9 396.9L60.4 397.5" stroke="#cfd470" stroke-width="1.4" stroke-linecap="round"/><ellipse cx="115.5" cy="396.9" rx="2.2" ry="1.5" fill="#e6cf74"/><ellipse cx="63.5" cy="396.9" rx="2" ry="1.6" fill="#d9d27a"/><path d="M62.9 396.9C63.4 388.7 76.3 378.6 94.8 378.6C107.2 378.6 114.5 387.8 116.1 396.9C114.5 406 107.2 415.2 94.8 415.2C76.3 415.2 63.4 405.1 62.9 396.9Z" fill="#eda863"/><path d="M64.7 396.7C65.2 388.9 77.4 379.3 94.8 379.3C106.5 379.3 113.4 388 114.9 396.7C113.4 405.4 106.5 414.1 94.8 414.1C77.4 414.1 65.2 404.5 64.7 396.7Z" fill="#e6613c"/><path d="M66.9 396.9C67.4 393.2 78.3 384.6 94 384.6C104.5 384.6 110.7 394.7 112.1 396.9C110.7 399.1 104.5 409.2 94 409.2C78.3 409.2 67.4 400.6 66.9 396.9Z" fill="#ec8a63"/><path d="M67.9 396.9C68.3 393.5 78.8 385.6 93.8 385.6C103.8 385.6 109.8 394.9 111.1 396.9C109.8 398.9 103.8 408.2 93.8 408.2C78.8 408.2 68.3 400.3 67.9 396.9Z" fill="#f2b092"/><path d="M72.2 396.9C72.5 395.2 78.8 391.2 87.8 391.2C93.8 391.2 97.4 395.8 98.1 396.9C97.4 398 93.8 402.6 87.8 402.6C78.8 402.6 72.5 398.6 72.2 396.9Z" fill="#f7c8ad" fill-opacity="0.8"/><path d="M85.1 399.7h0.5M102.7 394.3h0.6M84.2 397.1h0.9M98.3 404.2h0.9M86.5 390.8h0.5M100.6 400.6h0.9M104.6 402.4h0.9M93.6 395.5h0.7M107.6 396.3h0.7M88.7 390.9h0.5M95.5 398.5h0.7M91.4 397h0.7M97 402.1h0.7M103.7 398.8h0.4M83 400.9h0.9M83.9 396.5h0.7M83.7 397.5h0.6M87.7 398.9h0.8M107.9 397.3h0.7M100.6 390.2h0.7M92 402h0.8M93.8 400.1h0.4M95.4 391h0.7M99.3 392.3h0.6M106.3 395h0.9M100.6 397.5h0.9M102.4 393.7h0.5M103 396.7h0.6M104.2 401.1h0.4M95.8 392.2h0.6M101.1 400.5h0.8M105.8 395.5h0.9M99.5 400.9h0.6M97.3 398.9h0.6M96.3 393.3h0.5M86.2 395h0.7M98.6 405.6h0.9M102 403.5h0.4M100.9 401.9h0.8M96.3 402.6h0.4M106.5 395.8h0.5M90.4 406.5h0.5M96.6 403.7h0.8M101.2 391h0.6M105.4 403.5h0.6M96.1 402.5h0.7M95.8 391.7h0.4M93.5 400.1h0.8M103.3 401.6h0.4M95 405.4h0.7M88.4 402.4h0.5M103.7 395.7h0.5M83.4 393.2h0.7M96.7 401.1h0.6M104.8 392.4h0.6M94.6 401.9h0.6M93.7 387.6h0.7M99 406.9h0.5M102.3 392.1h0.5M90.7 399h0.7M107.3 399.9h0.7M95.4 406h0.7M93.9 406.7h0.9M88.6 394.3h0.7M99.6 405.2h0.9M100.5 399.5h0.5M83 394h0.8M89.1 393.9h0.8M99.7 395.2h0.9M101.5 398h0.5M91.5 398.3h0.5M98.1 403h0.9M90.3 395.8h0.5M86.2 404.8h1M105.2 396.5h0.9M91 390.2h0.4M96.2 398.9h0.5M107.2 398.6h0.8M90.7 387.9h0.5M105.3 398.6h0.4M83.1 398.4h0.9M89 406.7h0.6M103.3 400.9h0.8M93.6 387.8h0.4M93.7 388.9h0.6M98 388.1h0.8M88.1 404.2h0.4M104.8 391.9h0.5M84.2 402h0.8M101.1 391.6h0.9M88.6 393h0.9M85.6 393.5h0.4M103.9 401.4h0.7M107 397.1h0.8M93.4 391.2h0.7M93.6 389.7h0.8M83.2 400.9h0.5M104.7 401.9h0.4M104.9 398.9h0.4M88.3 398.1h0.4M91.5 390.6h0.7M84.9 391h0.7M94.5 398.6h0.7M91.2 405.4h0.4M96.3 401.5h0.5M103.7 392.8h0.5M82.7 400.9h0.9M89.3 404.8h1M97.2 403.8h0.9M99.1 388.3h0.4M100.8 393.1h0.4M87.9 394.6h0.9M100.8 402.9h0.6M100.9 389.4h0.8M91.5 387.8h0.6M93.7 401.6h0.6M87.9 399.1h0.7M96.5 403.9h0.6M87.9 392.4h0.7M89.8 406h0.4M103.5 396.7h0.8M96.6 398.3h0.9M96.6 396h0.5M92 390h0.6M90.2 405.9h0.8M99.5 397.9h0.6M92.6 397.9h0.5M97.8 393.1h0.5M96.4 399.2h0.7M88.6 392.5h0.4M87 391.4h0.9M99.1 388.1h0.8M92.1 393.3h0.8M88.9 398.1h0.9M103.7 397.9h0.7M93.3 393.3h0.6M93.4 403.4h0.7M91.4 390.5h0.7M85.7 391.6h0.9M85.1 403.1h0.8M97.9 395.8h0.5M104.8 393.9h0.9M100.7 402.5h0.8M85.5 390.6h0.8M87.3 402.9h0.8M103.3 391.2h0.6M103 395.1h0.9M90.9 393.7h0.9M92.4 388.4h0.8M87.3 390.7h0.8M97.4 406.9h0.8M107.7 396.2h0.6M82.9 395.4h0.8M89.2 406.3h0.4M99.5 392.7h0.6M102.3 400.8h0.6M83.6 394.7h0.4M92.4 397.6h0.6M95.8 395.1h0.7M96.2 393.4h0.7M88.6 405.3h0.5M97.7 400.5h0.9M83.2 396.6h0.8M100.6 390.3h0.6M103.4 395.1h0.8M98.3 396.5h0.7M96.3 404.8h0.7M91.7 405.9h0.6M88.2 391.8h1M100.1 391.1h0.7" stroke="#23140e" stroke-width="1.45" stroke-linecap="round" fill="none"/></g><g transform="rotate(-6 173.5 395)"><path d="M147.5 395L132.5 395.6" stroke="#cfd470" stroke-width="1.4" stroke-linecap="round"/><ellipse cx="199.9" cy="395" rx="2.2" ry="1.5" fill="#e6cf74"/><ellipse cx="147.1" cy="395" rx="2" ry="1.6" fill="#d9d27a"/><path d="M146.5 395C147 387.7 160.7 378.8 180.2 378.8C192 378.8 198.9 386.1 200.5 395C198.9 403.9 192 411.2 180.2 411.2C160.7 411.2 147 402.3 146.5 395Z" fill="#eda863"/><path d="M148.3 394.8C148.8 387.9 161.7 379.5 180.2 379.5C191.3 379.5 197.8 386.4 199.3 394.8C197.8 403.2 191.3 410.1 180.2 410.1C161.7 410.1 148.8 401.7 148.3 394.8Z" fill="#e6613c"/><path d="M150.5 395C151 391.8 162.6 384.3 179.2 384.3C189.3 384.3 195.1 393.1 196.5 395C195.1 396.9 189.3 405.7 179.2 405.7C162.6 405.7 151 398.2 150.5 395Z" fill="#ec8a63"/><path d="M151.5 395C151.9 392.1 163.1 385.3 179 385.3C188.6 385.3 194.2 393.3 195.5 395C194.2 396.7 188.6 404.7 179 404.7C163.1 404.7 151.9 397.9 151.5 395Z" fill="#f2b092"/><path d="M155.9 395C156.2 393.5 162.8 390.1 172.4 390.1C178.1 390.1 181.5 394 182.3 395C181.5 396 178.1 399.9 172.4 399.9C162.8 399.9 156.2 396.5 155.9 395Z" fill="#f7c8ad" fill-opacity="0.8"/><path d="M179.7 387.7h0.8M183.9 394.8h0.7M175.9 390h0.9M182 400.5h0.9M186.4 396.2h0.9M180.2 396.9h0.6M182.3 403.3h0.8M175.8 393.1h0.5M189.8 393.6h0.6M190.3 394.8h0.6M183.3 392.8h0.9M175.2 390.6h0.9M191.7 397.4h0.5M186.1 400.1h0.6M185.8 400.4h0.6M180.6 393.6h0.6M188.5 393.1h0.6M174.9 393.9h0.6M179 398.5h0.5M178.2 389.6h0.7M180.6 402.2h0.8M182.1 396h0.7M182.4 396.8h0.9M187.2 401.3h0.7M175.3 400.3h0.5M182.3 393h0.8M191.9 394.4h0.9M190.9 398.7h0.5M176.4 397.6h0.4M187.2 394.3h0.7M172.9 393.8h0.7M181.2 389.1h0.7M191.1 394h0.9M179.7 393.2h0.8M177.6 390.8h0.8M183.2 396.9h0.4M179 394.5h0.7M174.7 397.5h0.8M177.7 396.2h0.4M177 392.2h0.4M183.6 388.7h0.8M192 394.9h0.9M182.1 390.7h0.4M189.4 400.4h0.7M184.2 388.2h0.4M179.1 398.5h0.8M179.4 389h0.7M175.9 391.2h0.5M182.6 391.2h0.5M182.4 403.7h0.8M190.4 390.9h0.7M184.7 395.5h0.8M181.6 400.7h0.6M180.2 393h0.6M179.7 394.4h0.9M189.3 398.7h0.8M174.9 392.8h0.7M177.6 399.3h0.7M183.8 400h0.8M182.1 387h0.8M185.3 396.4h0.9M185.3 388.6h0.6M182.8 391h0.9M177.9 397h0.8M184.5 390.1h0.9M176.7 387.8h0.8M179 400.8h0.9M182.1 386.6h0.9M176.9 397.3h0.9M190 399.7h0.7M184.9 396.2h0.7M176 392.6h0.8M180.2 390.6h0.8M182.9 392.6h0.6M184.3 401.9h0.6M187.3 397.4h0.4M181 387.8h0.8M181.5 398.2h1M177.2 400.8h0.6M180.2 397.2h0.5" stroke="#23140e" stroke-width="1.45" stroke-linecap="round" fill="none"/></g><g transform="rotate(0 250.6 396.3)"><path d="M218.5 396.3L215 396.9" stroke="#cfd470" stroke-width="1.4" stroke-linecap="round"/><ellipse cx="283.1" cy="396.3" rx="2.2" ry="1.5" fill="#e6cf74"/><ellipse cx="218.1" cy="396.3" rx="2" ry="1.6" fill="#d9d27a"/><path d="M217.5 396.3C218.2 383.6 231.4 378.6 250.6 378.6C269.8 378.6 281.7 389.2 283.7 396.3C281.7 403.4 269.8 414 250.6 414C231.4 414 218.2 409 217.5 396.3Z" fill="#eda863"/><path d="M219.3 396.1C219.9 384 232.6 379.3 250.9 379.3C269.2 379.3 280.6 389.4 282.5 396.1C280.6 402.8 269.2 412.9 250.9 412.9C232.6 412.9 219.9 408.2 219.3 396.1Z" fill="#e6613c"/><path d="M224 396.3C224.5 392.6 235.2 384 250.6 384C266 384 275.6 394.1 277.2 396.3C275.6 398.5 266 408.6 250.6 408.6C235.2 408.6 224.5 400 224 396.3Z" fill="#ec8a63"/><path d="M225 396.3C225.5 392.9 235.8 385 250.6 385C265.4 385 274.7 394.3 276.2 396.3C274.7 398.3 265.4 407.6 250.6 407.6C235.8 407.6 225.5 399.7 225 396.3Z" fill="#f2b092"/><path d="M230.1 396.3C230.4 394.6 236.6 390.6 245.5 390.6C254.4 390.6 259.9 395.2 260.8 396.3C259.9 397.4 254.4 402 245.5 402C236.6 402 230.4 398 230.1 396.3Z" fill="#f7c8ad" fill-opacity="0.8"/><path d="M254.4 402.7h0.9M244.2 406h0.9M262.2 398.4h0.6M264.2 401.7h0.6M233.1 398.3h0.9M246.7 388.6h0.5M259.6 404.1h0.8M243.8 403.3h0.8M256.7 389.9h0.8M248.7 405.9h0.9M261.7 393.2h0.9M228.8 393.4h0.5M269.7 393.3h0.7M237.7 401.2h0.7M238.2 395.8h0.7M269 395.8h0.6M236.1 402.9h0.5M246.1 388.6h0.8M249 405.8h0.7M232.1 395.5h0.5M262.2 396.1h0.5M241.6 395.4h0.6M271.2 396.4h0.5M262.1 388.7h0.7M260.8 398.9h0.4M228.3 398.2h0.4M232.1 391.4h0.4M243.6 404.8h0.4M231.1 401.2h0.8M268 401.3h0.4M254.7 403.6h0.6M241.2 395.7h0.8M245.4 401.6h0.6M261.7 398.9h0.5M231.1 398.1h0.9M238 402.8h0.9M261.8 400.2h0.4M228.3 398.7h0.5M259.2 389.1h0.7M264.3 396.8h0.8M248 396.6h0.6M246.7 402.4h0.8M238.2 394.9h0.5M242.7 401.7h0.8M244.5 391.8h0.6M256.4 404.6h0.6M239.5 405h0.8M232.1 393h0.9M239.9 404.4h0.9M241.7 388.6h0.7M256.5 402.1h0.6M259.4 389.6h0.8M260.7 400.9h0.7M270 400.6h0.9M235.4 399.5h0.8M238.2 389.2h0.4M256.5 390.6h0.6M243 402h0.8M264.9 396.9h0.5M243.3 386.7h0.5M255 388.3h0.4M240.1 403.2h0.7M261.3 400.2h0.9M229.7 395.8h0.9M258.6 389.2h0.4M261.2 403.8h0.8M264.3 392h0.6M240.4 402.1h0.7M262.5 403h0.6M266.6 395.7h0.9M245.6 387.2h1M257.7 405.7h0.4M250.8 404h0.8M246.1 390.8h0.4M262.9 393.7h0.4M242.4 397.1h0.5M264.6 403.6h0.8M233.5 394.2h1M239.4 394.4h0.4M269.6 390.8h0.6M257.8 389.1h0.4M265.3 402.7h0.7M245 405.7h0.6M251.3 404h0.6M272.6 395.5h0.5M243.2 391.6h0.8M240.8 388.6h0.9M237.3 401.6h0.5M248.8 404h0.6M241.1 403.4h0.7M268.5 398.3h0.8M264 404.2h0.9M237.5 392.2h0.6M234.8 400.6h0.8M242.8 388.1h0.7M250.4 389.2h0.8M271.5 396h0.4M259.4 391.1h0.5M234.5 399.4h0.4M264 392.2h0.9M235.4 395.3h0.5M261 393h0.7M268.9 399.2h0.4M266.3 391.2h0.6M234.1 391.2h0.4M244.3 403.7h0.7M235.9 396.2h0.4M268.4 399h0.7M269.6 391h0.5M239.5 388.1h0.5M232.1 400.6h0.6M253.8 405h0.6M230.3 392.4h0.5M267.1 401.6h0.4M262.4 401.5h0.4M246.2 401.8h0.9M270.5 400h0.5M256.2 390.4h0.4M239.4 402.4h0.5M254.2 396.8h0.7M244.3 403h1M271.2 392.2h0.5M269.5 391.8h0.9M257.4 405.1h0.7M240.7 401.9h0.6M260.4 404.7h0.8M258.1 405.2h0.6M257.5 397.3h0.4M241.8 405.2h0.7M263.5 390h0.8M263 402.7h0.7M264.6 393.7h0.5M251.9 404.6h0.9M253.7 390.3h0.9M238.7 388.1h1M267.1 392.6h0.6M247.1 404.3h0.9M269.5 401.7h0.8M234.8 399h0.5M247.9 401.3h0.4M240.9 395h0.5M250.4 390h0.4M265.1 393.2h0.4M257.6 403.2h0.6M241.7 391.5h0.8M239.2 388.7h0.5M234 395.5h0.7M261.2 389.3h0.4M228.1 395h0.5M259.5 404.3h0.9M259.5 403.1h0.4M251.7 403h0.7M253.1 387.4h0.8M253.3 403.9h0.8M246.4 388.8h0.8M266.4 397.1h0.6M236.1 399h0.8M248.5 405.4h0.9M269.9 400.6h0.8M234.7 393.1h1M238.3 391.2h0.4M248.5 404.1h0.9M268 401.2h0.6M255.7 400.8h0.8M260.6 403.4h0.5M260.1 388.4h0.9M264.1 398.7h0.4M243.2 399.9h0.7M265.9 398.2h0.5M251.9 386.2h0.6M259.9 401.7h0.6M245.8 402.6h0.8M254 397.2h0.8M252 387.6h0.6M251.7 401.4h0.7M263 393.8h0.6M238.5 404.9h0.5M242.9 387.4h0.9M232.1 391.1h0.6M236.3 397.8h0.4M258.2 391.1h0.6M257.1 403.2h0.8M237.8 397.4h0.5M228.5 399.6h0.8M241 387.8h0.7M254.2 402.4h0.8M267.6 400h0.5M242.5 400.4h0.4M233.1 402.4h0.4M247.7 391.1h0.6M244.5 399.4h0.6M237.6 403.2h0.4M246.6 386.7h0.7M263.3 397h0.6M245.4 398.3h0.6M241 404.3h0.7M235 399.8h0.9M263.1 402.8h0.5M248.9 405h0.9M246.6 404.8h0.6M238.3 399.9h0.8M268.5 397.5h0.4M231.2 392.6h1M262.7 395.5h0.6M239.5 387.7h0.9M254.4 404.6h0.5M239 387.7h0.6M262.9 399.9h0.8M242.7 402.6h0.5M245.2 389.1h0.5M265.5 398.7h0.8M236.6 392.7h0.9M245 400.9h0.6M263.8 397.2h0.5M263.8 391.5h0.6M248.7 404.6h1M256.6 402.7h0.4M233.4 389.7h0.7M238.9 402.2h0.6M269.2 393.1h0.7M237.7 390.5h0.5M237.6 399.8h0.7M246.7 405.5h0.9M260.5 392h0.9M237.4 396h0.7M235.7 404h0.7M236.3 394.6h0.7M251.5 403.4h0.4M240.2 390.2h0.9M238 390.9h0.8" stroke="#23140e" stroke-width="1.45" stroke-linecap="round" fill="none"/></g><g transform="rotate(-8 326.3 390)"><path d="M297.7 390L293.7 390.6" stroke="#cfd470" stroke-width="1.4" stroke-linecap="round"/><ellipse cx="355.3" cy="390" rx="2.2" ry="1.5" fill="#e6cf74"/><ellipse cx="297.3" cy="390" rx="2" ry="1.6" fill="#d9d27a"/><path d="M296.7 390C297.3 379.1 309.1 373.7 326.3 373.7C343.5 373.7 354.1 381.9 355.9 390C354.1 398.1 343.5 406.3 326.3 406.3C309.1 406.3 297.3 400.9 296.7 390Z" fill="#c93a2c"/><path d="M298.5 389.8C299.1 379.5 310.3 374.4 326.6 374.4C342.9 374.4 353 382.1 354.7 389.8C353 397.5 342.9 405.2 326.6 405.2C310.3 405.2 299.1 400.1 298.5 389.8Z" fill="#e2553a"/><path d="M301.2 390C301.7 386.6 311.7 378.6 326.3 378.6C340.9 378.6 349.9 387.9 351.4 390C349.9 392.1 340.9 401.4 326.3 401.4C311.7 401.4 301.7 393.4 301.2 390Z" fill="#ec8a63"/><path d="M302.2 390C302.7 386.9 312.3 379.6 326.3 379.6C340.3 379.6 349 388.1 350.4 390C349 391.9 340.3 400.4 326.3 400.4C312.3 400.4 302.7 393.1 302.2 390Z" fill="#f2b092"/><path d="M307 390C307.3 388.4 313.1 384.8 321.5 384.8C329.9 384.8 335.1 389 335.9 390C335.1 391 329.9 395.2 321.5 395.2C313.1 395.2 307.3 391.6 307 390Z" fill="#f7c8ad" fill-opacity="0.8"/><path d="M311.8 392.1h0.6M316.4 392.7h0.9M329.1 396.8h0.6M314.5 387.2h0.5M342.5 391.4h0.8M312.9 392.2h0.4M311.2 385.2h1M334.9 395h0.9M344.2 389.7h0.6M320.7 397h0.6M339.6 389.6h0.9M331.8 387.7h0.8M341 389.6h0.7M329.1 398.1h0.4M315.8 383.1h0.8M335.7 383h0.4M307.5 389.4h0.7M344.1 393.3h0.7M324.7 385.7h0.9M331.8 384.4h0.7M309.4 388.1h0.4M330.5 394.4h0.9M323.8 388.1h0.8M310.7 387.3h0.7M317.6 390.3h0.4M332.7 382.2h0.8M329.1 383.5h0.6M341.8 385.6h0.8M333.9 394.4h1M330.1 391h0.9M316.9 396.8h0.4M330.5 387.4h0.8M332.3 395h0.6M336.2 384.3h0.8M331.5 388.6h0.6M336.2 389.7h0.6M314.5 384h0.6M326.1 386.1h0.4M320.9 384.9h0.6M338.6 390.5h0.8M321 396.5h0.4M324.6 396.8h0.4M324.2 386.5h0.9M338.5 395.3h0.8M320.2 390.7h0.7M341.6 395.7h0.4M318.2 386.6h0.4M333.8 398.3h0.5M321 382.9h0.9M320.1 393.8h0.7M320.7 391.8h0.9M318.5 385.8h0.5M332.6 384.9h0.6M313.6 391.7h0.7M337.9 388.1h0.9M324.5 385.9h0.4M317.8 387.7h0.9M334.6 386.6h0.6M337.2 384.2h0.4M308.9 392.4h0.6M314.2 395h0.6M316.5 386.5h0.8M338.8 392.3h0.9M324.6 395.8h0.7M337.4 388.6h0.8M321.7 383.2h0.6M327.5 395.7h0.8M339.9 396.2h0.4M327 395.8h0.8M317.5 396.7h0.5M336.1 384.5h0.7M321.3 389.2h0.5M331.9 388.4h0.6M319.4 394.1h0.5M324.5 382.8h0.6M316.7 397h0.7M330 389.6h0.7M318.1 385.5h0.6M318.5 394.6h0.7M320.5 396.6h0.9M311.9 384.6h0.6M346.6 388.7h0.7M313 394.9h0.6M317.3 384h0.9M332.3 390h0.6M314.9 391.3h0.8M322.1 386.6h0.5M336.3 389.7h0.5M322 392.4h0.8M313.7 394.7h0.7M334.2 391.8h0.5M318.1 384.4h0.4M326.6 385.5h0.9M333.6 383h0.6M328.2 387h0.8M324.8 390.2h0.6M339.4 383.3h0.7M329.6 389.2h0.7M318.4 395.2h0.9M320.6 389.4h0.9M329.8 385.3h0.6M320.2 389.9h0.7M320.8 388.7h0.5M339.1 393.3h0.8M322.5 397.5h0.4M327.5 395.7h0.5M335.8 391.4h0.9M313.2 392h0.4M309.5 392.1h0.8M341.6 395h0.7M338.1 397.2h0.7M314.8 389.1h0.6M313.3 384.7h0.5M339.4 388.7h0.9M334.8 390.2h0.8M334.1 383.1h0.8M325.5 386.6h0.4M323.8 389.7h0.8M335.6 393.1h0.5M342.8 388.5h0.5M329.6 388.4h0.7M322.4 391.2h0.7M326.8 393h0.4M337 387.5h0.8M311.2 390.5h0.7M341.6 384.4h0.9M314.3 387.4h0.9M337.3 386.8h0.8M322 397.3h0.6M326.4 395.4h0.9M314.8 392.6h0.8M319.1 394.5h0.5M322.9 390.6h0.9M329.6 388.1h0.8M312.8 388.9h0.5M319.7 392.5h0.5M337.1 393.2h0.4M321.8 395.7h0.7M329.4 397.6h0.5M325.4 390.1h0.5M311.1 394.8h0.5M342.5 390.3h0.4M338.8 388.7h0.7M317.4 386.9h0.5M322.4 396.6h0.5M317.9 387.3h0.5M313 390.1h0.7M327.2 388h0.9M335.6 392.5h0.5M324.8 397.8h0.9" stroke="#23140e" stroke-width="1.45" stroke-linecap="round" fill="none"/></g><g transform="rotate(0 82.8 446.3)"><path d="M55.5 446.3L50.5 446.9" stroke="#cfd470" stroke-width="1.4" stroke-linecap="round"/><ellipse cx="110.5" cy="446.3" rx="2.2" ry="1.5" fill="#e6cf74"/><ellipse cx="55.1" cy="446.3" rx="2" ry="1.6" fill="#d9d27a"/><path d="M54.5 446.3C55.1 437.8 69 427.5 89 427.5C101.8 427.5 109.4 436.9 111.1 446.3C109.4 455.7 101.8 465.1 89 465.1C69 465.1 55.1 454.8 54.5 446.3Z" fill="#eda863"/><path d="M56.3 446.1C56.8 438 70 428.2 89 428.2C101.1 428.2 108.3 437.2 109.9 446.1C108.3 455.1 101.1 464 89 464C70 464 56.8 454.2 56.3 446.1Z" fill="#e6613c"/><path d="M58.5 446.3C59 442.5 71 433.6 88.1 433.6C99.1 433.6 105.6 444 107.1 446.3C105.6 448.6 99.1 459 88.1 459C71 459 59 450.1 58.5 446.3Z" fill="#ec8a63"/><path d="M59.5 446.3C60 442.8 71.4 434.6 87.9 434.6C98.5 434.6 104.7 444.2 106.1 446.3C104.7 448.4 98.5 458 87.9 458C71.4 458 60 449.8 59.5 446.3Z" fill="#f2b092"/><path d="M64.2 446.3C64.4 444.6 71.3 440.5 81.2 440.5C87.5 440.5 91.3 445.1 92.1 446.3C91.3 447.5 87.5 452.1 81.2 452.1C71.3 452.1 64.4 448 64.2 446.3Z" fill="#f7c8ad" fill-opacity="0.8"/><path d="M95.1 439.5h1M79.5 443.7h0.7M79.9 444.4h0.5M98.7 441.6h0.8M89.4 448.9h0.4M96.3 443.7h0.5M90.8 441.1h0.7M82.5 448.3h0.5M87.9 435.6h0.8M80.3 446h0.8M86.1 450.6h0.6M93.2 445.2h0.8M98.6 443h0.7M99.8 450.9h0.8M96.8 451.3h0.6M98.3 453.8h0.6M85.5 455.9h0.4M98.6 449.7h0.6M91.2 447.1h0.9M78.5 441.6h0.9M85.2 436.9h0.4M91.5 438.5h0.4M97.3 450h0.5M92.9 453.7h0.8M84.3 452.5h0.6M92.9 455.1h0.4M82.2 450.1h0.6M96.9 450h0.7M78.2 442.4h0.8M85.4 444.8h0.6M87.2 452.4h0.7M85.9 436.1h0.8M101.1 444.7h0.7M99.6 441.7h0.4M91 445.7h0.8M80.3 446.9h0.4M85.9 438.3h0.4M80.6 439.3h0.6M97.1 450.4h0.4M91.7 445.8h0.4M98.1 453h0.6M91.3 445.8h0.6M100.4 448.3h0.4M86 438.9h0.9M80.1 441.7h0.9M89.6 446h0.7M99.3 450.4h0.7M100.4 444.7h0.5M83.4 449.8h1M88.7 447.4h0.4M90.3 440.7h0.5M82 442.2h0.5M84.3 454.1h0.9M83.8 447.8h0.7M93.2 443.2h0.6M93.1 450.8h0.6M78.7 447.6h0.9M86.6 451h0.5M85.9 441.6h0.8M83.3 445.5h0.8M93.2 443h0.6M90.2 452.3h0.6M84.5 454.6h0.6M84.5 437.6h0.6M86.2 445.5h0.5M89.9 440.8h0.7M91.1 453.3h0.6M96.9 445.9h0.5M82.2 454.6h0.8M97 445.9h0.6M96.6 453.7h0.6M90.8 440h0.9M91.3 439.7h0.6M87.3 454.6h0.6M88.9 438.7h0.9M89.9 445.1h0.9M81.9 446.3h0.8M100.1 450.5h0.6M92.8 450.2h0.8M97.9 438.8h0.8M96 443.6h0.5M93.5 444.5h0.8M86.7 435.8h0.9M91 450.1h0.8M84.4 436.9h0.8M87.7 435.6h0.6M82.3 448.2h0.8M94.2 450.3h0.5M92.4 445.2h0.8M92.3 452.3h0.7M95.7 448.2h0.9M91.2 449.8h0.6M80.6 444.9h0.8M80 442.3h0.4M77.9 444.5h0.6M94.4 448.9h0.8M95.5 449.2h0.5M90.2 435.7h0.7M84.7 446.2h0.5M85.1 453.6h0.6M86.3 455.8h1M97.6 445h0.5M80.4 440.2h0.9M84.4 447.4h0.4M100.7 442.5h0.7M99.8 447.8h0.9M87.1 447.8h0.9M92.1 450.2h0.6M89 441.2h0.7M95 446.9h0.8M92 438.8h0.8M84.6 440.1h0.8M90.1 447.5h0.7M88.7 448.4h0.5M88.8 455h0.8M83.8 451.9h0.7M84.6 441.9h0.7M82.2 454.5h1M82.7 442.8h0.4M81.4 444.4h0.8M83.8 455.5h0.6M90.6 457h0.8M96.2 438h0.9M94 453h0.5M95.9 445.7h0.7M94.4 454.6h0.7M90.3 454.7h0.7M96 455.3h0.5M88.6 449.7h0.7M86.6 440.3h0.9M81.5 443.5h0.8M97.2 442.6h0.5M89 446.6h0.8M83.2 446.4h0.6M81 442.3h0.4M85.9 447.1h0.7M81.1 446.4h0.6M81.9 437.8h0.7M87.8 453.5h1M98.8 451.3h0.7M90.4 456.3h0.9M91.3 441h0.6M96.4 441.8h0.8M81.5 450h0.4M97.5 443.7h0.5M82.9 447h0.8M94.1 439.7h0.8M86.4 450.4h0.9M91.9 456.2h0.6M93.5 436h0.5M98.2 441.7h0.6M92.4 437.4h0.7M93.6 437.1h0.4M94.4 455.2h0.6M87.4 451.5h0.8M91.2 445.5h0.4M82.4 445.8h0.5M91.8 437.9h0.9M99.2 440.6h0.9M87.6 444.1h0.5M87.6 443.1h0.5M100.8 445.1h0.4M87.6 450.7h0.4M85.8 437.2h0.8M98.9 445.5h0.8M96.8 453h0.5M100 450h0.7M90.7 436.6h0.8M96 440.3h0.4M98.4 443.2h0.9M81.8 446.6h0.9M88.4 447.6h0.5M95.1 454.7h0.8M90.7 455.2h0.8M91.1 437.2h0.6M82.6 445.7h0.9M88.8 451h0.5M83.5 439h0.6M96 444h0.5M99.9 441.6h0.6M86.4 456.8h0.8M80.7 438.9h0.7M90.5 440h0.7M87.7 454.2h1M87.3 446.5h0.5M95.3 440.1h0.5M79.1 447.9h0.7M89.6 451.2h0.5M84.1 443.7h0.9M88 448.9h0.6M96.3 448.4h0.6M77.8 444.5h0.6M84.4 440.8h0.9M84.4 449.3h0.9M77.7 448.1h0.8M95.3 451.4h0.5M85.3 437.4h0.6M80.3 443.3h0.8M100.2 442.3h0.5M89.3 454.4h0.9" stroke="#23140e" stroke-width="1.45" stroke-linecap="round" fill="none"/></g><g transform="rotate(3 162.8 451.9)"><path d="M135.5 451.9L132 452.5" stroke="#cfd470" stroke-width="1.4" stroke-linecap="round"/><ellipse cx="190.5" cy="451.9" rx="2.2" ry="1.5" fill="#e6cf74"/><ellipse cx="135.1" cy="451.9" rx="2" ry="1.6" fill="#d9d27a"/><path d="M134.5 451.9C135.1 443.4 148.2 435 167 435C181 435 189.4 444.3 191.1 451.9C189.4 459.5 181 468.8 167 468.8C148.2 468.8 135.1 460.3 134.5 451.9Z" fill="#eda863"/><path d="M136.3 451.7C136.8 443.7 149.2 435.7 167.1 435.7C180.3 435.7 188.3 444.5 189.9 451.7C188.3 458.9 180.3 467.7 167.1 467.7C149.2 467.7 136.8 459.7 136.3 451.7Z" fill="#e6613c"/><path d="M138.5 451.9C139 448.6 150.2 440.8 166.4 440.8C178.4 440.8 185.6 449.9 187.1 451.9C185.6 453.9 178.4 463 166.4 463C150.2 463 139 455.2 138.5 451.9Z" fill="#ec8a63"/><path d="M139.5 451.9C140 448.9 150.8 441.8 166.3 441.8C177.8 441.8 184.7 450.1 186.1 451.9C184.7 453.7 177.8 462 166.3 462C150.8 462 140 454.9 139.5 451.9Z" fill="#f2b092"/><path d="M144.2 451.9C144.4 450.4 150.9 446.8 160.2 446.8C167.1 446.8 171.3 450.9 172.1 451.9C171.3 452.9 167.1 457 160.2 457C150.9 457 144.4 453.4 144.2 451.9Z" fill="#f7c8ad" fill-opacity="0.8"/><path d="M174.2 450.3h0.4M165.1 456h0.5M168.9 451.4h0.5M168.2 451.2h0.8M175 448.1h0.8M165.7 451.9h0.8M177.3 454.4h0.9M180.3 452.5h0.5M171.8 451.6h0.6M171 453.8h0.9M167.5 449.9h0.8M168 459.7h0.4M166.7 448.8h0.9M162 454h0.8M161.6 451.3h0.9M165.1 456.2h0.6M167.6 457.1h0.7M177.1 453.6h0.9M163.3 450.8h0.9M179.2 458h0.7M159.5 454.2h0.9M164.3 460.2h1M169.6 446.7h0.9M163.1 447.4h0.8M160.3 453.1h0.9M161.9 456.8h0.4M159.5 454.3h0.6M157.3 451.6h0.7M174.7 450.7h0.4M177 453.7h0.8M181.8 454.6h0.4M164 450.1h0.7M174.2 460.2h0.5M175.5 447.4h0.6M165.1 446.6h0.7M161.1 454.6h0.5M157.1 450.6h0.6M182.7 452.7h0.9M171.3 451.2h1M169.8 461.1h0.5M159.8 451.5h0.6M164.6 460.1h0.8M155.7 452.3h0.5M181.7 456.8h0.9M174.9 453.4h0.5M160.9 457.3h0.7M177.6 457h0.6M178.2 451.1h0.4M170.4 446.9h0.4M164.6 451.4h0.4M156.6 454.8h0.6M166.5 449.8h0.5M159.6 455.1h1M163.9 458.4h0.7M168.3 452.3h0.4M171.5 459.6h0.8M170.4 455.3h0.5M170.1 448.4h0.6M179.5 451.5h0.8M178.3 457h0.9M168.4 460.4h0.9M167.5 446.1h0.6M171.9 453.6h0.6M171 450.2h0.6M170.2 454.5h0.5M174.4 457.9h0.8M177.1 451.9h0.6M168.7 460.5h0.8M174 459h0.5M159.2 447.9h0.8M179.4 454.8h0.9M160.1 458.1h0.5M169.3 460h0.7M173.5 458.4h0.5M176.3 452.3h0.4M167.1 460.8h0.6M167.9 451.3h0.5M172 456.8h0.8M166.2 460.3h0.7M165.2 445.5h0.8M164 447.5h0.9M160.8 457.7h0.4M166.2 453.2h0.4M160.9 453.4h0.4M166.4 452.8h0.6M183 454.5h0.9M163.9 456.5h0.8M175.9 458.1h0.7M174.5 451.4h0.9M159.6 453.1h0.6M170.6 447h0.4M169.8 456.6h0.7M169 450.9h0.4M171.2 452h0.5M173.1 458.3h0.4M175.7 447.8h0.5M169.3 446h0.4M168.9 451.3h0.7M172 450.3h0.4M170.8 454.5h0.7M182.2 454.5h0.9M166.5 454.7h0.6M181.9 455.3h0.4M158.7 448.5h0.8M174 453.8h0.8M167.9 456.6h0.9M174.2 455.5h0.7M165.8 450.5h0.7M174.4 458.3h0.9M165.6 455.3h0.8M160.3 450.7h0.9M162.2 456.7h0.5M180 454.7h0.8M172.2 457.5h0.7M182.6 453.6h0.6M162.1 450.5h0.4M156.4 451.1h0.6M175.4 456.8h0.5M167.2 448.3h0.7M165.9 445.7h0.7" stroke="#23140e" stroke-width="1.45" stroke-linecap="round" fill="none"/></g><g transform="rotate(0 245 458.1)"><path d="M213.5 458.1L194.5 458.7" stroke="#cfd470" stroke-width="1.4" stroke-linecap="round"/><ellipse cx="276.9" cy="458.1" rx="2.2" ry="1.5" fill="#e6cf74"/><ellipse cx="213.1" cy="458.1" rx="2" ry="1.6" fill="#d9d27a"/><path d="M212.5 458.1C213.2 444.1 225.5 438.7 243.4 438.7C263.2 438.7 275.6 450.3 277.5 458.1C275.6 465.9 263.2 477.5 243.4 477.5C225.5 477.5 213.2 472.1 212.5 458.1Z" fill="#eda863"/><path d="M214.3 457.9C214.9 444.6 226.7 439.4 243.8 439.4C262.6 439.4 274.4 450.5 276.3 457.9C274.4 465.3 262.6 476.4 243.8 476.4C226.7 476.4 214.9 471.2 214.3 457.9Z" fill="#e6613c"/><path d="M218.5 458.1C219 454.1 229.1 444.7 243.7 444.7C259.8 444.7 269.9 455.7 271.5 458.1C269.9 460.5 259.8 471.5 243.7 471.5C229.1 471.5 219 462.1 218.5 458.1Z" fill="#ec8a63"/><path d="M219.5 458.1C220 454.4 229.7 445.7 243.7 445.7C259.3 445.7 269 455.9 270.5 458.1C269 460.3 259.3 470.5 243.7 470.5C229.7 470.5 220 461.8 219.5 458.1Z" fill="#f2b092"/><path d="M224.6 458.1C224.9 456.2 230.7 451.9 239.1 451.9C248.5 451.9 254.3 456.9 255.2 458.1C254.3 459.3 248.5 464.3 239.1 464.3C230.7 464.3 224.9 460 224.6 458.1Z" fill="#f7c8ad" fill-opacity="0.8"/><path d="M229.8 452.4h0.8M264.9 457.5h0.9M240.8 465.4h0.7M224.2 457.7h0.4M227.4 464.7h0.5M230.4 458.8h0.4M231 458.9h0.7M261.2 462.5h0.7M228.5 452.3h0.9M233 460.2h0.5M230.2 465.9h0.5M245.3 459.3h0.5M260.1 452h0.4M262.1 461.7h0.4M248.1 465.4h0.7M240.6 456.6h0.6M240.3 461.7h0.6M223.1 460.1h0.9M232.2 453.5h0.5M237.6 468.3h0.9M249.4 466.8h0.7M264.5 462.9h0.4M261.9 455.3h0.4M236.3 466.7h0.7M261.4 452.4h0.9M260.6 460.1h0.4M255.4 464.5h0.8M265.1 454.9h0.5M244.7 466.4h0.8M240.7 462.3h0.9M245.4 451.6h0.8M228 462.6h0.5M242.6 450.6h0.5M252 451.1h0.9M236 452.8h0.9M238 461.5h0.9M238.2 455.6h0.7M230.1 453h0.4M246.9 449.5h0.6M260.7 450.4h0.9M229.4 463.1h0.4M234.4 463.2h0.5M232.5 464.8h0.4M236.4 463.4h0.9M256.4 449.9h0.6M235.4 448.9h0.4M230.8 464h0.6M244.7 464.4h0.5M261.2 464h0.6M255.7 455.2h0.7M230.6 450h0.8M254.8 460.9h0.4M245.3 452.8h0.7M235.3 464.2h0.4M248.4 463.8h0.6M233.8 460.8h0.8M249 452.1h0.5M249.2 449.7h0.9M260.1 458.8h0.5M234.1 454.4h0.6M259.1 459.7h0.8M231.1 466.9h0.4M230.6 466.4h0.7M256.4 451.9h0.7M259.1 465.2h0.8M259 462.6h0.9M257.3 467.4h0.8M225.6 453.1h0.5M264 455.5h0.5M235.1 452h0.6M248 449.1h0.5M253.8 464.9h0.7M230.7 462.2h0.4M240.2 449.1h0.8M226.2 453.9h0.6M253.6 459.4h0.4M239.2 465h0.4M227.7 459.9h0.9M240.8 467.8h0.9M234.2 467.1h0.9M262.7 463.9h0.6M255.3 460.5h1M246.8 449.6h0.5M237.3 451.9h0.8M243.7 467.3h0.9M227.6 456.4h0.5M267.6 458.3h0.4M252 452.2h0.4M256.1 466.6h0.4M254.2 457.4h0.8M253.8 448.3h0.7M247.2 468.6h0.6M258.1 454h0.4M254.1 462.9h0.7M245.8 467.1h0.4M241 448.4h0.4M230.3 461h0.7M230.9 459.5h0.7M226.3 460.7h0.8M241.4 451.9h0.9M234.3 462.5h0.4M264.4 454.5h0.5M257.5 459.3h0.4M236 462.7h0.7M256.3 464.6h0.4M252.1 452.2h0.9M245.7 452.8h0.8M236.5 467.1h0.8M243.6 452h0.7M231.5 460.1h0.9M224.4 459.9h0.9M243.1 468.1h0.9M260.2 453.9h0.8M266.3 455.4h0.5M255.6 467.9h0.6M251.1 467.6h0.4M253.7 462.3h0.8M225 461.7h0.6M240.2 453.5h1M255.6 452.1h0.5M256.3 460h0.6M240.6 465.1h0.9M261.1 455.1h0.9M243 451.6h0.8M230.1 462.4h0.9M230.6 463h0.9M236.5 464.8h0.5M236.1 462.1h0.7M256.6 460h0.4M241.4 458.3h0.8M234.8 463.8h0.9M248.4 450h0.7M231.3 458.4h0.4M244.8 450.2h0.7M250.3 448.2h0.4M260 452.2h0.6M237.6 451.4h0.4M227.6 456.3h0.6M224.1 456.5h0.9M247.9 456.1h0.8M231.3 452.3h0.9M228.8 465.8h0.6M253.5 465.3h0.6M257.1 465.7h0.4M224.9 458.8h0.8M237.1 467.9h0.7M255.6 458.3h0.6M259.4 451.3h0.4M243.7 461.2h0.6M244.1 455.4h0.4M240.9 461.2h0.4M242 467.2h0.4M254.9 462.2h0.6M231.4 462.2h0.4M228.3 461.5h0.9M265.2 454.1h0.7M262 452.5h0.9M233.6 451.3h0.7M231.4 467.1h0.5M249.7 467.3h0.5M245.5 468h0.9M254.1 454.7h0.7M262.7 464.7h0.7M263.7 456.4h0.7M225.3 459.8h0.4M246.5 450.2h0.5M242.5 466.1h0.6M237.7 452.7h0.9M238.9 454.8h0.9M247.3 463.3h0.7M265.7 454.8h0.5M256.3 449.4h0.4M252.1 450.5h0.7M262.2 462.4h0.6M255.3 449.3h0.9M250.2 458.8h0.5M223.1 458.9h0.5M260.1 457.7h0.4M236.4 450h0.4M239.8 451.7h0.8M240.7 455.9h0.9M241.4 448.2h0.5M237.6 450.6h0.4M228.1 462.8h0.7M260.9 453.3h0.5M265.8 459.5h0.7M229.3 452.1h0.9M234.3 453.7h0.8M262.6 461.2h0.5M260.5 453.3h0.7M228.5 451.9h0.5M264.6 455.6h0.8M260.3 457.6h0.5M262.5 458.9h0.9M230.9 450.2h0.8M234 453.7h0.9M265.6 458.4h0.6M228.4 450.3h0.9M227 452.4h0.7M247.9 447.1h0.5M223.5 460.6h0.7M231.1 467.1h0.5M235.3 461.7h0.4M226.6 462.8h0.4M232.5 467.4h0.7M250.3 465.8h0.5M254.6 454.4h0.4M228 458.7h0.8M243.1 466.2h0.4M257 460.7h0.8M240.3 468h0.5M247.1 448.8h0.6M226.9 452.3h0.9M244.3 447.9h0.9M264.7 457.4h0.9M254 465.1h0.9M232 452h0.7M259.5 466.3h0.9M232.8 457.7h0.7M258.8 457.3h0.7M261.7 462h0.6M234.6 454.2h0.6M233.5 449h0.7M266.3 457.5h0.5M254.8 455.4h0.7M251 459.7h0.9M258.2 464.9h0.8M244 458h0.5M264.9 462h0.4M251.5 450.9h0.6M260.8 460.1h0.6M261.4 453.9h0.9M259.2 464.4h0.7M240.7 452h0.7M247 449.7h0.7M230.4 462.3h0.7M242.6 464h0.8M255 453.9h0.7M246.5 451.4h0.7M245.1 458.5h0.5" stroke="#23140e" stroke-width="1.45" stroke-linecap="round" fill="none"/></g><g transform="rotate(2 328.1 458.8)"><path d="M296 458.8L291.5 459.4" stroke="#cfd470" stroke-width="1.4" stroke-linecap="round"/><ellipse cx="360.6" cy="458.8" rx="2.2" ry="1.5" fill="#e6cf74"/><ellipse cx="295.6" cy="458.8" rx="2" ry="1.6" fill="#d9d27a"/><path d="M295 458.8C295.7 447.9 308.9 441.3 328.1 441.3C347.3 441.3 359.2 451.8 361.2 458.8C359.2 465.8 347.3 476.3 328.1 476.3C308.9 476.3 295.7 469.7 295 458.8Z" fill="#eda863"/><path d="M296.8 458.6C297.4 448.3 310.1 442 328.4 442C346.7 442 358.1 452 360 458.6C358.1 465.2 346.7 475.2 328.4 475.2C310.1 475.2 297.4 468.9 296.8 458.6Z" fill="#e6613c"/><path d="M301 458.8C301.5 455.2 312.4 446.9 328.1 446.9C343.8 446.9 353.6 456.7 355.2 458.8C353.6 460.9 343.8 470.7 328.1 470.7C312.4 470.7 301.5 462.4 301 458.8Z" fill="#ec8a63"/><path d="M302 458.8C302.5 455.5 313 447.9 328.1 447.9C343.2 447.9 352.6 456.8 354.2 458.8C352.6 460.8 343.2 469.7 328.1 469.7C313 469.7 302.5 462.1 302 458.8Z" fill="#f2b092"/><path d="M307.2 458.8C307.5 457.2 313.8 453.4 322.9 453.4C332 453.4 337.6 457.7 338.5 458.8C337.6 459.9 332 464.2 322.9 464.2C313.8 464.2 307.5 460.4 307.2 458.8Z" fill="#f7c8ad" fill-opacity="0.8"/><path d="M338.9 463.6h0.6M345 453.5h0.8M323.1 466.1h0.4M312.2 458.6h0.4M337 466.7h0.4M312.7 455.1h0.8M309.4 460.2h0.9M323.1 465.4h0.9M323.7 455.4h0.7M308 454.7h0.4M314.7 454.8h0.8M329.2 454.4h0.7M316.9 463.7h0.8M325.8 451.6h0.7M336.8 467.6h0.7M344.3 458.6h0.5M346.4 459.1h0.4M311.2 455.1h0.4M312.3 453.9h0.6M309.2 462.4h0.5M312.8 454.9h0.9M309.6 457.1h0.4M323.3 453.6h0.8M343.9 458.1h0.4M336.3 465h0.4M321.6 462.3h0.9M336.6 466.3h0.5M335.9 465.2h0.7M334.7 459.3h0.7M351 459.7h0.6M341 456h0.6M317.5 454.6h0.4M334.9 464.1h0.8M307.4 462.5h0.6M340.7 463.8h0.7M310.5 460.6h0.9M332.7 452.5h0.4M317.6 467.4h0.6M317.9 456.5h0.6M306.7 456.8h0.9M345.8 461.5h0.7M315.3 459.7h0.5M311.7 462.7h0.6M325.6 466.5h0.4M307.1 460.7h0.7M331.7 455.1h0.4M314.9 457.8h0.4M327.2 467.1h0.7M309.8 462.3h0.7M327 467.9h0.5M325.8 467.9h0.7M314 461.5h0.5M312.7 456.2h0.8M311.1 457.3h0.4M346.9 456.9h0.9M347.3 464.4h0.6M333.2 459.5h0.5M306.3 459.6h0.5M340.2 461.1h0.7M304.8 459.9h0.4M314.7 452.5h0.9M309 454.6h0.5M320.1 459.7h0.6M332.1 454.8h0.4M334.2 465.4h0.6M310.2 455.2h0.9M341.4 459.2h0.5M343.7 459.2h0.5M342.7 462.8h0.7M331.7 463.8h0.7M329.6 453.2h0.4M339.5 465.4h0.5M346.3 459.1h0.7M311.6 461.6h0.5M321.6 451.3h0.4M330.3 454.9h0.8M334.7 465.7h0.9M322.8 468.1h0.8M308.3 462.7h0.9M342.7 457.2h0.5M329.7 452.9h0.5M344.9 455.7h0.7M320.8 465.4h0.7M318.6 463.9h0.7M318.8 459.1h0.7M327.5 465.2h0.5M328.1 466.5h0.5M310.3 462.6h0.4M309.4 463h0.4M327.5 464.4h0.7M343.3 457.3h0.4M349.8 460.7h0.9M341.5 458.1h0.9M347.9 460h0.4M325 457.7h0.9M338.1 461.2h0.7M333.6 452.5h0.4M334.3 465.5h0.6M314.7 455.8h0.6M316.3 454.1h0.5M318.7 454.7h0.4M337.2 453.7h0.5M345 453.1h0.4M337.5 452.2h0.6M321.4 453h0.6M328.1 466.6h0.5M310.2 457.1h0.9M320.4 451.1h0.9M322.3 464h0.7M313.1 461.3h0.8M314.1 453.4h0.6M330 451.1h0.8M324.1 450.4h0.8M312.9 461.3h0.6M320.1 455.1h0.8M335.1 454.1h0.6M312 457h0.5M305.1 460.7h0.6M342.4 466h0.4M348.3 457.9h0.8M327.2 460.6h0.5M339.4 461.4h0.7M345.6 456.5h0.8M337.3 451.8h0.7M334.9 465.2h0.9M339.7 462.5h0.8M306.5 459.6h0.8M323 466.6h0.8M335.2 463h0.8M344.3 461.9h0.9M310.7 455.3h0.7M307.8 463.7h0.8M324.7 452.5h0.7M310.5 457.1h0.7M346.2 457.2h0.9M349.7 461.9h0.5M317.4 460.2h0.5M312.7 453.2h0.7M316.6 457.9h0.5M311.9 460.5h0.8M317 465h0.7M334.9 463.1h0.4M326.7 453.5h0.5M342.7 455.2h0.7M321 455.2h0.6M338.9 456.1h0.8M334.3 455.6h0.6M323.8 455.8h0.4M335.9 464.1h0.8M317.8 463h0.9M345.3 463.9h0.4M315.7 465.5h0.7M306.9 463.3h0.7M342.1 454h0.7M339.9 451.9h0.7M341.4 456.8h0.7M318.9 465.8h1M348 459.7h0.9M341.4 462h0.6M306.2 460.1h0.8M329.4 466.6h0.8M308 464h0.8M316 460.9h1M319.4 467.7h0.4M316.9 451.5h0.5M339.7 461.9h0.5M324.9 452.9h0.9M320.7 452.3h0.9M315.1 459.6h0.5M331.4 452.9h0.7M313.4 458.5h0.9M348.7 460.8h0.8M311.3 464.7h0.7M339.8 463.1h0.9M348.6 455.8h0.9M345.2 459.3h0.4M325.7 452.2h0.9M309.7 462h0.5M340 460.6h0.7M343.3 464.6h0.8M315.4 460h0.5M331.2 452.8h0.5M323.9 464.9h0.9M349.1 457.3h0.8M305.7 456.9h0.9M309.1 457.5h0.4M340 463.1h0.7M316.2 455.6h0.8M319.7 454.9h0.9M312.4 462.3h0.8M338.7 460.9h0.5M336 464.8h0.4M346.2 459.1h0.5M325.8 451.3h0.5M342.1 458.2h0.7M311.6 464.2h0.6M343.8 460.4h0.4M325.5 466.2h0.4M325.3 450.8h0.8M308.2 459h0.8M344.6 462.9h0.4M344.4 456.2h0.7M310.9 459.7h0.9M332.5 453h0.6M345.6 461.1h0.7M336.9 452.8h0.8M337.6 467.5h0.4M334.6 465.3h0.9M316 453.4h0.8M327.5 468.3h0.8M313.8 462.2h0.6M344.8 456.1h0.7M307.8 461h0.9M327.1 454.2h0.4M346.1 462.7h0.4M327.5 452.2h0.7M342.7 464.7h0.9M337.4 466.7h0.4M314.4 454.2h0.5M340.4 461.9h0.6M309.1 463.8h0.8M338.9 452.1h0.7M324.5 455.3h0.8M325.8 451.3h0.4M327.1 461.9h0.5M349.7 457.7h0.7M321.4 458.3h0.8M315.2 452.6h0.4M328.9 452.8h0.4M343.6 458.4h0.5M310.1 461.8h0.6M332.1 452.5h0.6M339.3 457.6h0.5M345.4 454.1h0.4M310.9 453.2h0.7M309 456.5h0.9M314.6 465.3h0.7M315 457.7h0.9M347.5 462.1h0.4M328.3 450.9h0.7M315.4 460.5h0.6M313.3 454.9h0.9M314.9 458.6h0.7M315.7 464.6h0.7M322 455h0.9M318.3 456.4h0.9M326.1 451.1h0.4M305.8 457.6h0.6M348.7 458.6h0.4M320.1 463h0.7M343.6 463.5h0.5M310.6 465.1h0.8M333.8 453h0.6M320.8 463.7h0.4M335.1 460.3h0.9M327.2 460.1h0.4M312.7 464.9h0.5M305.6 462h0.7M342 462.4h0.4M325.5 458.2h0.8" stroke="#23140e" stroke-width="1.45" stroke-linecap="round" fill="none"/></g><g transform="rotate(3 80.8 502.5)"><path d="M53.8 502.5L50.3 503.1" stroke="#cfd470" stroke-width="1.4" stroke-linecap="round"/><ellipse cx="108.2" cy="502.5" rx="2.2" ry="1.5" fill="#e6cf74"/><ellipse cx="53.4" cy="502.5" rx="2" ry="1.6" fill="#d9d27a"/><path d="M52.8 502.5C53.4 488.1 64.6 482.5 80.8 482.5C97 482.5 107.1 492.5 108.8 502.5C107.1 512.5 97 522.5 80.8 522.5C64.6 522.5 53.4 516.9 52.8 502.5Z" fill="#eda863"/><path d="M54.6 502.3C55.1 488.5 65.7 483.2 81.1 483.2C96.5 483.2 106 492.8 107.6 502.3C106 511.9 96.5 521.4 81.1 521.4C65.7 521.4 55.1 516.1 54.6 502.3Z" fill="#e6613c"/><path d="M58.8 502.5C59.2 498.4 68 488.7 80.8 488.7C93.6 488.7 101.5 500 102.8 502.5C101.5 505 93.6 516.3 80.8 516.3C68 516.3 59.2 506.6 58.8 502.5Z" fill="#ec8a63"/><path d="M59.8 502.5C60.2 498.7 68.6 489.7 80.8 489.7C93 489.7 100.5 500.2 101.8 502.5C100.5 504.8 93 515.3 80.8 515.3C68.6 515.3 60.2 506.3 59.8 502.5Z" fill="#f2b092"/><path d="M64 502.5C64.3 500.6 69.3 496.1 76.6 496.1C83.9 496.1 88.4 501.2 89.2 502.5C88.4 503.8 83.9 508.9 76.6 508.9C69.3 508.9 64.3 504.4 64 502.5Z" fill="#f7c8ad" fill-opacity="0.8"/><path d="M81.5 505.1h0.9M78.4 507.9h0.8M70.6 507.8h0.8M77.4 495.1h0.7M83.6 497h0.5M78.9 504.8h0.4M74.4 504.4h0.9M90.3 509h0.5M68.5 494.6h1M94.1 499.6h0.6M73.9 505.5h0.6M69.7 499.9h0.4M78.3 505h0.5M89.3 498.8h0.8M76.7 497.5h0.9M92.4 500.8h0.7M69.5 494h0.6M81.5 507.7h0.5M71 508.6h0.6M85.4 499.3h0.8M98.3 505.1h0.9M77.1 509.5h0.4M71.5 499.4h0.7M94.8 494.6h0.8M83.1 509.3h0.5M62.3 505.7h0.7M79.2 509.2h0.4M77.1 505.6h0.4M98.3 499.8h0.9M63.8 498.9h0.9M70.9 496.3h0.4M64.5 506.7h0.6M87.4 504.5h0.9M95.9 496.6h0.6M85 496.2h0.9M79 508.5h0.9M82.4 510.1h0.8M85.2 494.2h0.7M64.9 508.6h0.5M74.4 508.7h1M97 498h0.9M81.6 494.2h0.4M87.3 508.8h0.8M75.5 505.9h0.4M81.4 504.4h0.5M85 497.1h0.9M93.7 510.7h0.9M91.2 511.2h0.4M63.2 499.2h0.5M82.8 504.8h0.5M83.1 496.7h0.8M86.1 495.3h0.9M90.1 510.8h0.7M64.8 496.8h0.6M73.2 496h0.4M66 500.2h0.4M93 499.8h0.8M93.8 495h0.5M75.8 500.8h0.4M85.8 497.2h0.9M78.2 510.7h0.9M95.9 496h0.8M87.2 495.8h0.7M82.6 510.6h0.8M67.8 504.4h0.5M79.3 496.1h0.9M70.7 499.8h0.5M64.2 508.9h0.7M79 506h0.8M87.4 510.1h0.5M94.5 505.6h0.5M75.6 509.2h0.4M69.4 499.8h0.6M62.6 499.3h0.7M75.7 505.1h0.6M76.6 509.7h0.9M87.1 505.5h0.9M80.5 510.8h0.9M71 497.2h0.6M66 507.8h0.4M80.1 495.7h0.8M78.2 510.9h0.7M92.4 499.8h0.7M91.8 500.7h0.7M90.5 506.6h0.9M89.6 506.7h0.9M80.7 494.4h0.9M91.6 497.6h0.8M86 508.8h0.6M64.8 509.8h0.8M64.1 500h0.5M78.1 498.5h0.8M81 508h0.5M92.7 509.2h1M64.3 497.2h0.7M85.5 506h0.7M87.1 499.5h0.5M88 504.9h0.5M93 505.8h0.9M76.3 497.2h0.6M81.6 496.3h0.5M78.8 499h0.5M92.8 496.4h0.7M82.2 494.6h0.5M62.5 500.4h0.9M94.4 507.7h0.7M80.3 499.7h0.6M87.8 505.1h0.6M95.3 510.2h0.6M77.9 508.1h0.9M79.1 506.5h0.5M90.5 507.8h0.5M90.1 507h0.5M83.7 508.4h0.9M84.4 506.7h0.9M95 496.2h0.5M73.2 509.8h0.7M72.1 497.1h0.7M71.1 506.4h0.8M80.6 497.6h0.9M89.9 508.4h0.4M90.9 504.9h0.5M77.6 497.4h0.8M92.9 507.6h0.6M97.3 507.3h0.5M87 495.6h0.9M71.8 506.4h0.6M96.5 495.9h0.5M71.6 498.6h0.6M82 495.6h0.6M64.9 508.1h0.4M86.1 504.9h0.7M86.6 507.9h0.4M68.5 500.8h0.4M67.1 499.1h1M88.9 497.7h0.7M94.1 495h0.6M89.6 511.2h0.9M66 497.7h0.6M93.9 499.4h0.8M69.1 507.8h0.6M82.1 505.5h0.9M84.7 496.1h0.7M68 495.9h0.5M93.5 494.8h0.8M90.2 508.1h0.8M71.6 507.2h0.7M77.5 504.3h0.9M78.5 499.5h0.9M84.5 505.9h0.9M80.7 499.9h1M74.4 509.7h0.9M94.1 509.4h0.4M95.7 506.2h0.4M76 498.3h0.6M90 507.6h0.5M89.6 507.1h0.6M66 507.6h0.9M65.3 500.2h0.9M83.3 510.1h0.7M91 500.1h0.4M96.2 498.6h0.4M96.9 499.5h0.4M66 497.3h1M64 497.8h0.4M63.4 506.9h0.5M74 496.6h0.8M92 508.6h0.8M86.7 505.5h1M69.5 494.9h0.8M81.2 500h0.9M91 509.2h0.7M80.7 509.3h0.8M97.5 497h0.6M68.9 499.1h0.4M73.6 494.3h0.8M84.3 506.1h0.4M82.6 500.5h0.4M63.6 506.6h0.6M97.9 498.2h0.5M64.3 496.3h0.9M92.8 494h0.6M66.4 496.4h0.8M80.7 500h0.6M65.6 494.7h0.4M75.2 499.8h0.6M83.7 498.1h0.9M85.5 506.3h0.8M95.2 498.8h0.6M69 495.1h0.7M73.4 499.9h0.5M92.2 494.2h0.6M87.4 508.2h0.7M70.8 505.4h0.8M76.7 510.9h0.4M78.3 500.7h0.9M79.3 507.2h0.4M89.7 494.7h0.5M76.2 510.6h0.7M76.8 499h0.4M76.7 496.3h1M85.5 506.7h0.6M91.5 499.8h0.5M96.6 506.1h0.7M72.7 498.1h0.9M65.2 509.4h0.7M78.6 497.7h0.7M84.6 505.1h0.7M91 510h0.4M88.9 498.3h0.4M81.4 505.5h0.7M75 510.1h0.6M66.5 507.3h0.8M68.3 497.4h0.5M72 498.4h0.7M71.3 495.6h0.7M64.9 495.6h0.9M96.3 506h0.7M73.7 506.5h0.8M66.9 506h0.9M74.8 509.1h0.8M71.6 507.9h0.7M93.2 494.2h0.7M73.9 507.9h0.4M76.3 498.5h0.9M78 495.8h0.9M86.4 499.5h0.6M82.5 508.5h0.5M88.1 500.7h0.9M85.9 508.8h0.8M79.2 509.2h0.6M78.3 511.3h0.8M71.1 494.1h0.9M66.9 498.9h0.9M91.2 495.9h0.7M66.3 504.7h0.5M67.4 496.2h0.5M94.9 497h0.9M85.6 494.9h0.8M91.3 495.1h0.5M93.4 494.3h0.6M70.4 510.6h0.7M77.1 496.3h0.4M74.3 499.4h0.5M88.7 508.9h0.8M68.4 494.2h0.7M67.7 499.1h0.6M68.3 507.1h0.8M62.5 499.4h0.7M97.5 507.7h0.4M78.8 511.1h0.8M79.7 497.6h0.6M67.7 507.9h0.7M66.5 496.9h0.6M72.4 504.5h0.8M95.3 505.6h0.9M77.9 498.3h0.4M72.2 507.7h0.8M86.2 507.4h0.7M80 498.9h0.8M94.1 507.9h0.9M81.7 497.1h0.5M92.2 506.3h0.9M92.2 494.1h0.8M68 496.2h0.8M79.3 499.4h0.9M93.7 505.3h0.8M79.3 504.8h0.9M70 510h0.9M69 499.5h0.8M74.7 510.6h0.9M72.8 496.3h0.8M73 510.3h0.9M64 504.6h0.7M87.6 500.7h0.6M81.8 510.3h0.6M75.3 496.2h0.9M70.2 506.1h0.7M69.1 496h0.9M71 497.6h0.4M66.3 504.4h0.9M82.5 499.2h0.8M91.3 510h0.8M64.4 497.9h0.8M88.3 507.1h0.5M76.4 506.4h0.8M86.8 499.5h0.9M76.1 505.1h0.8M71 508.2h0.9M97.2 504.7h0.6M76.3 497.9h0.7M87.8 499.2h0.5M69.3 495.6h0.6M86.7 509.1h0.5M87.5 493.9h0.5M92 499.8h0.6M84.3 508.7h0.5M91.7 496.1h0.8M93.3 509.2h0.4M63.3 498.7h0.9M79.6 504.7h0.5M79.8 506.7h0.8M72.9 500.3h0.9M70.5 505.7h0.9M86.5 500.8h0.7M93.4 494.4h0.5M90.9 506.3h0.6M65.6 507.6h0.9M81.1 504.6h0.4M86 500.1h0.5M86.9 508.3h0.4M81.2 506h0.8M92.1 500.3h0.7M65.3 506.2h0.9M78.8 495.5h0.6M71.7 504.7h0.8M70 505.2h0.5M75.7 495.7h0.9M89.4 508.1h0.6M82.5 498.6h0.9M92.3 508.4h0.8M94.6 505.2h0.7M82.5 497.7h0.4M87.3 504.3h0.8M87.1 510h0.4M83.6 495.8h0.7M93.3 510h0.8M96.2 495.1h0.4M92.7 500.6h0.9M93 509.8h0.7M70.7 496.2h0.5M97.4 497.7h0.7M85.1 495.6h0.6M83.5 494.2h0.4M71.1 506.2h0.8M76.1 498.1h1M88.4 510.5h0.9M93.2 497.5h0.7M91.8 511.2h0.4M92 510.7h0.7M89.4 500h0.4M72.2 509.9h0.4M95.6 509.1h0.8M77.5 508.2h0.8M90.8 504.4h0.5M83.4 504.7h0.7M67.2 507h0.9M91.9 508h0.8M93.7 508.2h0.4M87 498.1h0.6M92.5 510.6h0.8M94.2 495h0.4M72.1 495.1h0.6M96 507.3h0.4M76.9 504.9h0.7M89 505.5h0.7M75.7 494.2h0.5M76.9 509.7h0.5M93.2 495.4h0.8M94.1 510.1h0.6M65.7 504.3h1M71.1 498.4h0.8M84.7 507.5h0.4M75.4 499.4h0.9M91.3 506.1h0.6M92.4 496.7h0.6M87.5 508.9h0.8M63.6 498.1h0.7M79.1 500.6h0.9M83.5 494.9h0.7M96.7 509h0.9M94.1 510.9h1M87.5 507.2h0.6M94.4 494.1h0.6M83.1 493.8h0.4M78.4 495.2h0.4M94.1 499.9h0.4M70 510.5h0.7M64.6 507.3h0.8M74.6 497.4h0.4M63.8 498.2h0.8M69.7 505.8h0.5M85.4 505.8h0.8M92.9 504.8h0.7M74.3 499.3h0.4M81.8 494.4h1M91.4 509.8h0.7M74.5 498.2h0.4M75.9 505.5h0.4M71.5 500h0.7M80.4 509.1h0.8M95.1 510.5h0.9M84 493.8h0.4M91.8 506.6h0.9M95.5 497.9h0.6M81.8 504.4h0.7M85.8 494.3h0.6M91.1 495.2h0.8M88.8 495.8h0.7M75.7 508.6h0.8M90.6 495.9h0.9M64.9 497.9h0.8M86.6 510.7h0.6M72.2 499.8h0.7M65.2 505.6h0.5M71.9 505.3h0.7M67.6 506.8h0.5M71.8 500.2h0.8M72.5 496.6h0.8M67.5 499.6h0.7M90.7 509.9h0.9M78.3 500.1h0.6M82.3 498.4h0.9M74.8 494.1h0.5M86.1 496.4h0.7M97.8 498.3h0.5M71.6 508.5h0.4M76.1 494.6h0.7M96 507.8h0.5M69.7 506.8h0.8" stroke="#23140e" stroke-width="1.45" stroke-linecap="round" fill="none"/></g><g transform="rotate(0 159.4 506.9)"><path d="M131 506.9L125.5 507.5" stroke="#cfd470" stroke-width="1.4" stroke-linecap="round"/><ellipse cx="188.2" cy="506.9" rx="2.2" ry="1.5" fill="#e6cf74"/><ellipse cx="130.6" cy="506.9" rx="2" ry="1.6" fill="#d9d27a"/><path d="M130 506.9C130.6 496.4 142.3 490 159.4 490C176.5 490 187 500.1 188.8 506.9C187 513.7 176.5 523.8 159.4 523.8C142.3 523.8 130.6 517.4 130 506.9Z" fill="#eda863"/><path d="M131.8 506.7C132.4 496.8 143.5 490.7 159.7 490.7C175.9 490.7 185.9 500.3 187.6 506.7C185.9 513.1 175.9 522.7 159.7 522.7C143.5 522.7 132.4 516.6 131.8 506.7Z" fill="#e6613c"/><path d="M136 506.9C136.5 503.6 145.8 495.8 159.4 495.8C173 495.8 181.4 504.9 182.8 506.9C181.4 508.9 173 518 159.4 518C145.8 518 136.5 510.2 136 506.9Z" fill="#ec8a63"/><path d="M137 506.9C137.4 503.9 146.4 496.8 159.4 496.8C172.4 496.8 180.5 505.1 181.8 506.9C180.5 508.7 172.4 517 159.4 517C146.4 517 137.4 509.9 137 506.9Z" fill="#f2b092"/><path d="M141.5 506.9C141.7 505.4 147.1 501.8 154.9 501.8C162.7 501.8 167.6 505.9 168.4 506.9C167.6 507.9 162.7 512 154.9 512C147.1 512 141.7 508.4 141.5 506.9Z" fill="#f7c8ad" fill-opacity="0.8"/><path d="M158.1 510h0.6M165 502.5h0.9M153.6 509.2h0.9M170.5 511.3h0.5M156.8 511.1h0.9M165.2 511.6h0.6M143.9 504.8h0.4M171.7 512.2h0.8M164.9 501.3h0.7M159.1 504.3h0.9M155.5 511.8h0.6M172.2 503.9h0.4M151.7 511.6h0.6M153.6 511.9h0.8M153.6 502.4h0.5M175.9 504.3h0.8M160.5 503.9h0.5M161.8 511.3h0.8M163.6 512h0.4M160.2 508.8h0.8M167.6 502.9h0.5M155.3 505.3h0.6M146.7 511.6h0.9M164.2 508.7h0.4M171.2 511.1h0.4M158.7 501.3h0.9M165.1 510.3h0.8M167.8 502.4h0.7M164.5 503.8h0.7M174 508.8h0.6M151.5 513h0.7M155 509.2h0.9M153.9 512.4h0.4M160.3 502.8h0.6M164.7 513.1h0.7M158.1 503.4h0.5M166.4 501.3h0.4M162.5 503.8h0.7M161.7 501.1h1M172.4 503.6h0.8M159.6 502.9h0.6M150.1 512.6h0.6M156.8 505.6h1M163.2 509.3h0.9M155 500.5h0.7M176.2 505h0.4M162.9 509.4h0.4M158.3 504.5h0.8M153.6 503.8h0.6M152 510.1h0.8M169 511.3h0.5M174.7 509.7h0.8M163.7 512.9h0.7M163.6 503.4h0.4M153 511.1h0.4M175.2 512.1h0.5M157.5 500.8h0.6M158.7 502.3h0.7M166.1 509.2h0.9M176.7 511.4h0.5M170.4 510.8h0.5M162.9 509.4h0.7M172.3 508.5h0.5M176.4 511.2h0.4M162.6 501.1h0.7M172.6 503.2h0.6M150.5 505h0.8M172.1 503h0.7M149.4 508.4h0.4M175.9 504.8h0.6M159.2 511.7h0.4M146.8 501.3h0.4M173.4 511h0.9M156 509.9h0.9M164.1 502.5h0.9M160.8 510.4h0.8M166.6 505h0.7M154.6 509.2h0.7M156.9 501.6h0.7M151.4 511.8h0.6M144.9 510.8h0.9M151.2 505h0.6M173.9 513.1h0.9M149 509.2h0.6M171.9 510.3h0.5M151.8 505h0.7M151.8 510.2h0.8M154.3 513.2h0.7M172.4 500.6h0.5M164.6 504.5h0.4M166.5 503.5h0.7M168.4 513h0.4M164.8 502.7h0.9M155.4 504.6h0.6M158.1 509.6h0.8M160.5 504.6h0.5M151.8 512.5h0.9M171 512.5h0.5M150.9 509h1M149.9 513.1h0.4M163.4 505.6h0.8M170.1 501.1h0.5M170.5 501.7h0.9M161.2 510.6h0.7M173.1 502.4h0.8M150.2 501.8h0.7M167.6 504.9h0.8M153.4 503.8h0.5M168.2 511.2h0.6M155.6 503.2h0.8M146.6 505.4h0.4M163.6 512.2h0.5M167.9 511.1h0.5M149.9 503.9h0.5M152.7 510.4h0.5M163.6 512.6h0.4M165.5 512.2h0.7M148.6 503.1h0.6M149.3 503.7h0.8M148.3 503.7h0.9M155.1 511.9h0.7M147.7 512.3h0.8M157.3 512.5h0.9M159 501.6h0.9M153.4 500.5h0.6M146.5 508.9h0.9M170 510.5h0.6M156.4 505.2h0.6M165.2 511.6h0.5M155.8 503.6h0.8M148.3 509.6h0.5M163.7 512.8h0.5M174.5 504.9h0.6M173.7 510.4h0.4M160.3 500.8h0.9M148.9 512.8h0.4M163.7 501h0.4M176.4 504.9h0.9M164.3 512.4h0.8M174.4 505.2h0.4M159.7 511.9h0.5M146.6 510.3h0.6M149.4 511.8h0.4M169.2 504.7h0.5M174.8 502.4h0.6M167.1 512.5h0.9M176.3 509.9h0.4M149 508.4h0.8M165.4 504.4h0.5M149.2 505.1h0.7M149.8 501.4h0.4M177.4 510h0.8M162.1 500.8h0.9M167.5 501.3h0.4M167.9 503.4h0.9M159.2 509.9h0.9M170.6 501.4h0.5M176.1 508.5h0.7M170.9 510.1h0.4M174.6 504h0.5M172 513.1h0.4M173.9 501h0.6M151.8 503.1h0.5M174.3 508.5h0.4M148.2 512.1h0.4M171.6 508.8h0.5M151.5 501h0.4M171 502.9h0.4M177.7 509.5h0.9M169.1 509h0.6M174.5 511.3h0.4M157.5 509.8h0.9M145 509.7h0.5M177.3 510.2h0.5M144.5 504.2h0.4M159.2 510.4h0.9M167.5 511.1h0.6M152.5 509.2h0.7M164.5 509.9h0.7M169 512.1h0.9M153.4 504h0.9M148.2 504.3h0.8M155.7 511.4h0.7M160.1 502.7h0.8M177.7 505.6h0.5M160.8 501.6h0.9M167.4 509.1h0.7M159.4 503.4h0.4M164.9 503.2h0.6M169.6 510.7h0.9M173.6 511h0.5M166.3 503.3h0.4M147.8 508.8h1M159.4 508.6h0.6M172.2 510.3h0.7M161.8 501.5h0.6M170.4 505.5h0.5M169.3 503.5h0.6M153.4 501.6h0.9M157.5 502h0.7M147.9 511.1h0.8M159.1 500.7h0.7M156.5 509.3h0.5M161.5 508.3h0.9M155.3 512.1h0.9M171.5 508.8h0.4M150.8 503h0.4M164.3 502.8h0.8M169.8 509.4h0.5M166.3 505h0.9M165.9 502.3h0.7M159.2 508.2h0.7M158.4 503.1h0.5M166.9 508.5h0.7M172.2 509.1h0.5M167.5 510.1h0.4M148.2 511.5h0.7M157 509.8h0.9M152.7 510.8h0.8M157.2 511.9h0.6" stroke="#23140e" stroke-width="1.45" stroke-linecap="round" fill="none"/></g><g transform="rotate(0 243.8 513.8)"><path d="M211 513.8L207.5 514.4" stroke="#cfd470" stroke-width="1.4" stroke-linecap="round"/><ellipse cx="277" cy="513.8" rx="2.2" ry="1.5" fill="#e6cf74"/><ellipse cx="210.6" cy="513.8" rx="2" ry="1.6" fill="#d9d27a"/><path d="M210 513.8C210.7 500.3 224.2 495 243.8 495C263.4 495 275.6 505.9 277.6 513.8C275.6 521.7 263.4 532.6 243.8 532.6C224.2 532.6 210.7 527.3 210 513.8Z" fill="#eda863"/><path d="M211.8 513.6C212.4 500.7 225.4 495.7 244.1 495.7C262.8 495.7 274.5 506.1 276.4 513.6C274.5 521.1 262.8 531.5 244.1 531.5C225.4 531.5 212.4 526.5 211.8 513.6Z" fill="#e6613c"/><path d="M216.5 513.8C217 509.9 228 500.8 243.8 500.8C259.6 500.8 269.5 511.5 271.1 513.8C269.5 516.1 259.6 526.8 243.8 526.8C228 526.8 217 517.7 216.5 513.8Z" fill="#ec8a63"/><path d="M217.5 513.8C218 510.2 228.5 501.8 243.8 501.8C259.1 501.8 268.5 511.6 270.1 513.8C268.5 516 259.1 525.8 243.8 525.8C228.5 525.8 218 517.4 217.5 513.8Z" fill="#f2b092"/><path d="M222.8 513.8C223.1 512 229.4 507.8 238.5 507.8C247.7 507.8 253.4 512.6 254.3 513.8C253.4 515 247.7 519.8 238.5 519.8C229.4 519.8 223.1 515.6 222.8 513.8Z" fill="#f7c8ad" fill-opacity="0.8"/><path d="M248.8 513.2h0.7M248.9 521h0.9M252.5 515.4h0.4M250.6 508.3h0.5M241 511.4h0.8M263.2 509.7h0.4M241.2 518.9h0.6M239.8 519.5h0.6M233.3 520.7h0.5M248.2 505.4h0.5M231.9 508.9h0.5M242.6 512.7h0.7M250.9 519.4h0.6M254.4 518.3h0.7M237.4 507.3h0.6M231.3 517.4h0.8M235 508.4h0.9M234.6 517.7h0.7M230.1 514h0.9M255.5 520.2h0.6M227.9 514.9h0.4M241.5 524.8h0.9M243.4 507.1h0.5M237.5 515h0.4M239.7 519.8h0.8M240.6 515.4h0.4M266.9 516.3h0.7M257.6 515.3h0.6M229.1 520.8h0.4M240 519.6h0.6M229.6 515.8h0.4M258.5 509h0.8M263.7 519.5h0.9M251.8 513.2h0.6M254.6 506.2h0.7M257.1 506.7h0.6M240.2 522.6h0.7M249.4 505.8h0.9M230.4 509.2h0.5M239.1 509.7h0.7M259 512.8h0.4M261.9 521h0.9M233.3 521.6h0.4M260.2 509.1h0.6M241.7 509.6h0.6M232.9 514.7h0.7M250.4 509.7h0.5M229 518.3h0.5M260.2 520.9h0.7M229.7 512.2h0.8M241.6 510.4h0.9M258.8 509.8h0.6M241.9 517.6h0.5M247.2 516.8h0.6M244.2 518.7h0.4M250.7 515.4h0.9M253.9 517.9h0.8M255.9 518.2h0.4M252.5 517.5h0.9M234.8 511.9h0.7M242 510.5h0.7M239.6 510.6h0.7M236.5 517.2h0.8M263.9 520.5h0.5M246.1 515.5h0.6M242.4 513.4h0.7M254.1 517.9h0.7M249.8 521h0.8M240.2 519.9h0.5M248.4 508.8h0.5M260.3 510h0.8M256.5 510.5h0.6M237.6 521.7h0.9M251.9 515h0.9M238 506.6h0.9M238.9 513.8h0.9M258 514.9h0.9M258.8 511.7h0.8M257.6 520h0.4M242.7 520.5h0.8M261.5 508.9h0.9M231 511.2h0.5M239 509.1h0.4M247.8 507.1h0.9M265 514.6h0.5M249.3 513.7h0.4M238.1 515.8h0.6M244.2 517.6h0.6M255.8 509.9h0.5M228.3 511.7h0.5M248.5 505.5h0.6M252.5 515.7h0.9M230.3 516.3h0.4M258.5 514.4h0.6M252.7 518.9h0.9M258.8 521.3h0.8M236.1 513.6h0.4M246.6 508.7h0.7M248 517.6h0.5M249.5 505.8h0.5M240.9 505.3h0.9M247.5 514.8h0.9M255.9 520.4h1M233.8 514.4h0.4M248.5 520.2h0.4M260.7 513.9h0.6M230.2 519.2h0.6M244.1 505.9h0.4M248.4 509.5h0.9M246.6 522.2h0.6M245.2 509.7h1M252.3 513h0.4M247.5 521.3h0.6M249.6 518.3h0.4M245.2 515.9h0.9M233.5 510.5h0.9M257.5 521.9h0.4M232.9 519h0.6M257.1 510.2h0.9M255.5 518.7h0.7M257.4 522.9h0.6M246.5 517.7h0.7M234.5 516.8h0.6M246.6 513.5h0.9M248.2 520.7h0.4M257.8 519.6h0.7M261.9 509h0.9M244.4 514.5h0.4M240.9 512h0.5M230 513.2h0.6M261 512.5h0.7M245.9 518h0.9M246.3 508.9h0.7M240.3 522h0.4M238.2 508h0.9M265.4 515.7h0.5M235.7 506.9h0.8M237.9 507.8h0.4M244.6 521h0.4M256.8 512.7h0.8M255.2 512.2h0.6M226.1 517.7h0.9M236.6 509.3h0.4M259.4 515.4h0.4M257 520.7h0.4M256.7 514.3h0.6M264.5 510.8h0.5M255.4 523.5h0.5M244 510.9h0.6M256.2 521.3h0.8M254 510.9h0.8M248.3 506.9h0.6M258.5 521.2h0.6M244 519.1h0.5M242.2 515.5h0.8M248.9 513.6h0.6M266.8 514h0.8M258.8 510h0.4M250.6 514.8h0.5M236.1 520.1h0.7M255.4 522.2h0.4M251.8 508.8h0.9M257.4 517h0.9M259.2 507.1h0.6M244.4 515.8h0.4M258.2 508.7h0.6M260.5 516.8h0.6M232.5 522.7h0.6M227.8 510.7h0.6M235.5 518h0.4M240.1 514.4h0.4M236.5 518.2h0.4M254.8 523.4h0.4M230.2 511.1h0.5M238.3 512h0.6M244.6 519.3h0.4M238.2 510.9h0.4M259.1 521.8h0.7M260.3 522.4h0.7M238 522.4h0.5M256.4 514.5h0.8M254.9 510.9h0.7M232.4 513.5h0.5M229.2 512.9h0.9M247.5 508.7h0.7M239.5 506h0.4M231.7 514.6h0.7M237.5 516h0.4M237.7 511.7h0.5M231.8 522.1h0.9M243.2 520.7h0.6M237.2 508.4h0.7M250.6 512.1h0.4M245.5 519.3h0.6M254.3 520h0.9M248.2 505.7h0.9M251.8 523.2h0.6M251.3 521.4h1M253.1 518.6h0.9M253.2 507h0.4" stroke="#23140e" stroke-width="1.45" stroke-linecap="round" fill="none"/></g><g transform="rotate(3 333.1 513.1)"><ellipse cx="363.1" cy="513.1" rx="2.2" ry="1.5" fill="#e6cf74"/><ellipse cx="303.1" cy="513.1" rx="2" ry="1.6" fill="#d9d27a"/><path d="M302.5 513.1C303.1 500.1 315.4 495 333.1 495C350.8 495 361.9 504.1 363.7 513.1C361.9 522.1 350.8 531.2 333.1 531.2C315.4 531.2 303.1 526.1 302.5 513.1Z" fill="#eda863"/><path d="M304.3 512.9C304.9 500.5 316.5 495.7 333.4 495.7C350.3 495.7 360.8 504.3 362.5 512.9C360.8 521.5 350.3 530.1 333.4 530.1C316.5 530.1 304.9 525.3 304.3 512.9Z" fill="#e6613c"/><path d="M307.5 513.1C308 509.3 318.3 500.5 333.1 500.5C347.9 500.5 357.2 510.8 358.7 513.1C357.2 515.4 347.9 525.7 333.1 525.7C318.3 525.7 308 516.9 307.5 513.1Z" fill="#ec8a63"/><path d="M308.5 513.1C309 509.6 318.8 501.5 333.1 501.5C347.4 501.5 356.2 511 357.7 513.1C356.2 515.2 347.4 524.7 333.1 524.7C318.8 524.7 309 516.6 308.5 513.1Z" fill="#f2b092"/><path d="M313.4 513.1C313.7 511.4 319.6 507.3 328.2 507.3C336.7 507.3 342.1 511.9 342.9 513.1C342.1 514.3 336.7 518.9 328.2 518.9C319.6 518.9 313.7 514.8 313.4 513.1Z" fill="#f7c8ad" fill-opacity="0.8"/><path d="M337.3 508.9h0.6M321.2 509.2h0.9M334.4 517.1h0.6M352.2 512.4h0.7M316.7 517.5h0.7M328.7 507.7h0.7M340.4 505.3h0.9M322.2 520.6h0.5M326.8 516.5h0.4M347.2 507.8h0.5M335.6 519.7h0.6M342.9 519.9h0.5M349.1 518.9h0.5M343.3 510h0.5M344.7 509.8h0.7M317.2 507.6h0.6M334.5 513.2h0.7M327 519.4h0.5M332 509h0.6M333.8 513.3h0.5M342.2 513.2h0.9M345.6 511h0.5M332 517h0.5M323.3 514.8h0.4M336.1 519.2h0.7M314.8 517.6h0.5M328.9 514h0.8M349.3 515.9h0.6M316.9 511.9h0.7M343.8 511.8h0.7M338.4 518.5h0.9M351.8 510.6h0.5M316.1 509.9h0.9M328 519h0.5M336.7 520.1h0.7M336 506.3h0.8M339.3 509.6h0.4M337.2 505.5h0.5M343.1 508h0.6M328.5 518.5h0.5M330.5 508.2h0.8M350.2 511.8h0.4M346.3 513h0.6M314.5 512.5h0.5M339.2 512.6h0.8M347.6 507h0.8M324 517.1h0.8M346.4 517.7h0.7M321.2 515.5h0.7M338.4 521.2h0.9M352.3 515.2h0.6M341.8 517.7h0.9M332.3 515.4h0.5M339.2 514.4h0.6M342.9 513.6h0.9M326.9 519.5h0.4M345.3 509.5h0.6M341.4 508.6h0.8M338.2 509.3h0.7M325.6 516.1h0.4M322.3 517.6h0.6M350.7 512.3h0.9M323.6 515.9h0.6M331 505.8h0.6M352.6 511.5h0.5M350.4 517h0.8M342.9 515.9h0.4M329.2 517.3h0.8M325.6 515.9h0.5M321.9 513.8h0.6M312.2 511.6h0.9M339 514.1h0.8M337.9 516.7h0.8M351.2 511.1h0.5M312.3 514.6h0.4M336.7 513.6h0.9M340.9 520.6h0.7M337.8 508.2h0.5M343.3 509.5h0.6M317.6 508.5h0.6M333.5 506.2h0.9M328.3 516.3h0.8M315.1 517.7h0.6M352.3 512.7h0.8M332.3 511.9h0.8M312.2 513.9h0.5M316.1 512.6h0.5M320.5 508.8h0.7M324.5 507.7h0.4M315 517.6h0.8M320.7 518.1h0.6M343.6 511.6h0.6M334.1 513.8h0.9M340.6 515.9h0.5M329.6 513.2h0.4M345.6 509.1h0.9M320.1 506h0.4M328.7 518.8h0.9M352.1 511h0.7M335.8 508.4h0.4M335 512.3h0.8M344.4 517.6h0.5M339.7 513.9h0.6M344.9 512.3h0.9M345.8 519.5h0.4M341.6 520.7h0.6M324.9 516.4h0.9M337.1 509.1h0.7M338.3 512.5h0.7M340.3 514.4h0.4M342.9 511.6h1M333.5 518.7h0.7M348.6 514.3h0.9M316.2 517.3h0.4M341.4 507.6h0.4M316.8 507.5h0.5M319.6 520h0.8M327.3 512.5h0.4M341.1 520.3h0.9M335.7 513h0.9M344.3 519.5h0.6M337.3 510.1h0.6M320.7 517.9h0.7M321 510.2h0.7M315.1 508.8h0.5M341.7 510.1h0.6M344 512.5h0.4M326.4 518.6h1M335.5 511.4h0.5M348.8 509h0.9M319 513.6h0.7M333 504.8h0.7M329.1 511.9h0.6M321.6 514.6h0.9M313.5 515.1h0.6M341.5 521.3h0.5M318.9 518h0.6M324.8 505.8h0.4M333.1 508.5h0.5M325.6 508.5h0.5M339.8 512.3h0.9M339.2 514.9h0.6M339.4 513.7h0.8M319.1 516.8h0.4M327.9 513.8h0.6M335.2 514.3h0.8M324.2 509.9h0.7M320.9 511.6h0.9M342.3 508.4h0.6M335.9 521.2h0.9M316.6 513.7h0.5M337.8 511.9h0.7M325.9 517.6h0.7M331.6 514.9h0.6M320.9 519.2h0.9M351.9 512.1h0.9M339.1 510.1h0.7M347.7 515.6h0.9M336.7 512.8h0.5M320.6 514.7h0.6M336.7 505h0.9M334.4 504.9h0.5M350.1 514h1M339.9 508.9h0.4M351.4 515h0.5M334.9 512.4h0.7M322 511.2h0.9M329.4 506.8h0.4M344.3 506.4h0.5M338.2 519.9h0.4M337 515.6h0.5M327.9 507.5h0.7M348.7 507.6h0.5M338.7 507.3h0.4M340.5 517.1h0.8M347.8 513.5h0.4M333.7 511.4h0.9M333.7 513h0.9M344.2 512.3h0.9M331.3 522h0.9M318.5 514h0.9M351.2 509.1h0.9M349.6 514.4h0.5M346.1 516.9h0.4M317.8 517.7h0.4M329.6 505.8h0.4M339.5 507.7h0.6M330.8 515.3h0.6M317.2 517.1h0.8M343.7 514.1h0.6M345.4 512.9h0.4M350 511.2h0.6M336.1 517.6h0.8M338.5 505.8h0.7M329.7 519.6h0.4M327.4 505.9h0.6M338.9 507.9h0.8M348 510.1h0.5M314.4 509h0.6M319.9 509.5h0.8M337.4 513.8h0.9M344.4 508.9h0.5M326.5 515.6h0.4M339.6 518.1h0.5M316 514.2h0.8M338.9 516.4h0.8M329 514.8h0.4M316.2 508.8h0.6M346.3 508.8h0.6M335.9 521.8h0.7M316.7 508.7h0.6M335.2 515.1h0.4M335.2 514.2h0.6M318.2 511.5h0.7M344.2 507.8h0.9M330.3 513.1h0.4M344.3 509.5h0.8M348.6 514.7h0.6M337.1 511.8h0.5M325.3 506.9h0.8M343.5 513.1h0.4M343.5 517.4h0.5M321.4 513.9h0.6M326.5 505.1h0.5M345.6 513.8h0.8M334.4 519.8h0.4M320.6 518.8h0.7M326.3 515.4h0.4M334.2 508.3h0.4M318.1 518h0.5M327.3 515.6h0.4M326.6 514.7h0.4M330.4 512.8h0.6M341.2 520.6h1M320.5 510h0.9M338.5 511.1h0.5M332.1 517.9h0.5M333.1 507.3h0.6M344.6 514.2h0.5M339.4 514.2h0.8" stroke="#23140e" stroke-width="1.45" stroke-linecap="round" fill="none"/></g></g><text transform="translate(366,416.5) rotate(-90)" font-size="14.8" style="fill:#fff;stroke:#fff">10 cm</text><path d="M361.3 422.5V441.3" stroke="#fff" stroke-width="1.8"/></g>
<g id="panelC"><text class="b" x="16.6" y="588.6">C</text><text transform="translate(44,754.2) rotate(-90) scale(1,1.06)" font-size="17.6">Relatice expression</text><rect x="83.2" y="740.5" width="24.9" height="23.1" fill="#e5821e"/><rect x="123.8" y="650.3" width="25.4" height="113.3" fill="#78a62c"/><rect x="164.3" y="629.3" width="25.7" height="134.3" fill="#16b1b6"/><rect x="205" y="674.5" width="25.8" height="89.1" fill="#9f7fbf"/><path class="ax" d="M72.5 596.3V769H237.8"/><path class="tk" d="M66.6 763.6H72.5"/><text class="t" text-anchor="end" x="61.1" y="767">0</text><path class="tk" d="M66.6 718.1H72.5"/><text class="t" text-anchor="end" x="61.1" y="721.5">2</text><path class="tk" d="M66.6 672.5H72.5"/><text class="t" text-anchor="end" x="61.1" y="675.9">4</text><path class="tk" d="M66.6 627H72.5"/><text class="t" text-anchor="end" x="61.1" y="630.4">6</text><path class="tk" d="M95 769V774.8"/><path class="tk" d="M136.3 769V774.8"/><path class="tk" d="M177.2 769V774.8"/><path class="tk" d="M218 769V774.8"/><text class="t" text-anchor="middle" x="92.6" y="791.1">WT</text><text class="t" text-anchor="middle" x="94.8" y="808.6">n=3</text><text class="t" text-anchor="middle" x="135.8" y="791.1">OE1</text><text class="t" text-anchor="middle" x="134.6" y="808.6">n=3</text><text class="t" text-anchor="middle" x="177" y="791.1">OE2</text><text class="t" text-anchor="middle" x="175.8" y="808.6">n=2</text><text class="t" text-anchor="middle" x="218.2" y="791.1">OE3</text><text class="t" text-anchor="middle" x="217" y="808.6">n=3</text><path class="eb" d="M95 736.5V744M89.8 736.5H100.2M89.8 744H100.2"/><path class="eb" d="M136.3 640.8V660M131.1 640.8H141.5M131.1 660H141.5"/><path class="eb" d="M177.4 623.3V635M172.2 623.3H182.6M172.2 635H182.6"/><path class="eb" d="M218 665.8V683M212.8 665.8H223.2M212.8 683H223.2"/><path class="br" d="M95.5 634V629.2H136.3V634"/><path class="br" d="M95.5 616.5V611.7H177.4V616.5"/><path class="br" d="M95.5 598.6V593.8H217.8V598.6"/><text text-anchor="middle" x="115" y="626.9" style="font-size:9.8px;font-weight:bold">**</text><text text-anchor="middle" x="133" y="609.6" style="font-size:9.8px;font-weight:bold">**</text><text text-anchor="middle" x="148" y="590.4" style="font-size:9.8px;font-weight:bold">**</text></g>
<g id="panelD"><text class="b" x="262.2" y="587">D</text><text transform="translate(281.2,735.6) rotate(-90) scale(1,1.04)" font-size="17.6">Fruit width (cm)</text><rect x="325" y="632" width="25" height="132" fill="#f5b27b"/><rect x="364.5" y="655" width="24.8" height="109" fill="#bfd08e"/><rect x="403.8" y="657.5" width="25" height="106.5" fill="#a9dadb"/><rect x="443" y="651.3" width="25" height="112.7" fill="#cdbcdd"/><path class="ax" d="M316.8 596.3V769.5H478.7"/><path class="tk" d="M311 764H316.8"/><text class="t" text-anchor="end" x="305.4" y="767.1">0</text><path class="tk" d="M311 714.9H316.8"/><text class="t" text-anchor="end" x="305.4" y="718">5</text><path class="tk" d="M311 665.8H316.8"/><text class="t" text-anchor="end" x="305.4" y="668.9">10</text><path class="tk" d="M311 616.7H316.8"/><text class="t" text-anchor="end" x="305.4" y="619.8">15</text><path class="tk" d="M337.5 769.5V775.3"/><path class="tk" d="M376.8 769.5V775.3"/><path class="tk" d="M416.2 769.5V775.3"/><path class="tk" d="M455.6 769.5V775.3"/><text class="t" text-anchor="middle" x="336.3" y="791.3">WT</text><text class="t" text-anchor="middle" x="336.6" y="808.6">n=5</text><text class="t" text-anchor="middle" x="378.3" y="791.3">OE1</text><text class="t" text-anchor="middle" x="377.4" y="808.6">n=5</text><text class="t" text-anchor="middle" x="418" y="791.3">OE2</text><text class="t" text-anchor="middle" x="416.6" y="808.6">n=5</text><text class="t" text-anchor="middle" x="457.8" y="791.3">OE3</text><text class="t" text-anchor="middle" x="457.2" y="808.6">n=5</text><circle cx="332" cy="628" r="1.7" fill="#ee8a3c"/><circle cx="343.8" cy="634" r="1.7" fill="#ee8a3c"/><circle cx="336" cy="630.5" r="1.7" fill="#ee8a3c"/><circle cx="340" cy="632.5" r="1.7" fill="#ee8a3c"/><circle cx="345" cy="631" r="1.7" fill="#ee8a3c"/><circle cx="379.5" cy="647.5" r="1.7" fill="#7fae3e"/><circle cx="374.5" cy="650.5" r="1.7" fill="#7fae3e"/><circle cx="370.8" cy="656.3" r="1.7" fill="#7fae3e"/><circle cx="372.5" cy="659" r="1.7" fill="#7fae3e"/><circle cx="378.8" cy="660.8" r="1.7" fill="#7fae3e"/><circle cx="410" cy="652.5" r="1.7" fill="#1fb0b5"/><circle cx="416.8" cy="650.8" r="1.7" fill="#1fb0b5"/><circle cx="421.8" cy="650.8" r="1.7" fill="#1fb0b5"/><circle cx="413" cy="666" r="1.7" fill="#1fb0b5"/><circle cx="422.5" cy="667.5" r="1.7" fill="#1fb0b5"/><circle cx="456.8" cy="641" r="1.7" fill="#a98acb"/><circle cx="462" cy="648" r="1.7" fill="#a98acb"/><circle cx="456" cy="651" r="1.7" fill="#a98acb"/><circle cx="460" cy="654" r="1.7" fill="#a98acb"/><circle cx="450.8" cy="665.5" r="1.7" fill="#a98acb"/><path class="eb" d="M337.5 631V633.6M330 631H345M330 633.6H345"/><path class="eb" d="M376.8 652.5V658M369.6 652.5H384.1M369.6 658H384.1"/><path class="eb" d="M416.3 653.3V661.8M408.8 653.3H423.8M408.8 661.8H423.8"/><path class="eb" d="M455.5 646.8V655.8M448 646.8H463M448 655.8H463"/><path class="br" d="M337.5 625.6V620.8H376.8V625.6"/><path class="br" d="M337.5 610.6V605.8H415.8V610.6"/><path class="br" d="M337.5 594.3V589.5H455V594.3"/><text text-anchor="middle" x="357" y="617.9" style="font-size:9.8px;font-weight:bold">**</text><text text-anchor="middle" x="374.5" y="602.1" style="font-size:9.8px;font-weight:bold">**</text><text text-anchor="middle" x="393.8" y="586.4" style="font-size:9.8px;font-weight:bold">**</text></g>
<g id="panelE"><text class="b" x="390.6" y="35">E</text><path d="M408 109.3H764.3" stroke="#b5b5b6" stroke-width="2.6" fill="none"/><path d="M399.6 109.3L412 102.3V116.3Z" fill="#b5b5b6"/><rect x="418.8" y="103.3" width="113.7" height="11" fill="#f5b55e"/><rect x="544.5" y="103.3" width="4.8" height="11" fill="#f5b55e"/><path d="M418.8 109.3H532.5M544.5 109.3H549.3" stroke="#eba548" stroke-width="2.6" fill="none"/><path d="M434.5 47.5V109" stroke="#cf3f34" stroke-width="1.6" stroke-dasharray="6 5.7" fill="none"/><path d="M572.5 91.2V109" stroke="#cf3f34" stroke-width="1.6" stroke-dasharray="6 5.7" fill="none"/><path d="M603.8 62.5V109" stroke="#cf3f34" stroke-width="1.6" stroke-dasharray="6 5.7" fill="none"/><path d="M668.3 51.2V109" stroke="#cf3f34" stroke-width="1.6" stroke-dasharray="6 5.7" fill="none"/><path d="M722 81.2V109" stroke="#cf3f34" stroke-width="1.6" stroke-dasharray="6 5.7" fill="none"/><path d="M739.5 56.2V109" stroke="#cf3f34" stroke-width="1.6" stroke-dasharray="6 5.7" fill="none"/><path d="M611.3 110.5V127.5" stroke="#cf3f34" stroke-width="1.6" stroke-dasharray="6 5.7" fill="none"/><path d="M670.5 110.5V127.5" stroke="#cf3f34" stroke-width="1.6" stroke-dasharray="6 5.7" fill="none"/><path d="M747.5 110.5V150.5" stroke="#cf3f34" stroke-width="1.6" stroke-dasharray="6 5.7" fill="none"/><text class="t" x="416" y="42.6">1105bp</text><text class="t" x="544.2" y="80.2">-200 bp</text><text class="t" x="578.5" y="55.2">-584 bp</text><text class="t" x="636" y="43.2">-1160 bp</text><text class="t" x="676" y="76">-1638 bp</text><text class="t" x="713.5" y="51.4">-1769 bp</text><text class="t" x="589.6" y="140.2">-646 bp</text><text class="t" x="647.2" y="142.2">-1184 bp</text><text class="t" x="719.8" y="163.8">-1838bp</text><text class="t" x="445.8" y="72.6">TT</text><text class="t" x="493.6" y="72.6">Tyr</text><text class="t" x="444.8" y="91.4">AA</text><text class="t" x="494.6" y="91.4">Phe</text><path d="M469.5 67.4H487.5" stroke="#1a1513" stroke-width="1.6" fill="none"/><path d="M493.3 67.4L480.5 61.1L483.9 67.4L480.5 73.7Z" fill="#1a1513"/><path d="M469.5 86.6H487.5" stroke="#1a1513" stroke-width="1.6" fill="none"/><path d="M493.3 86.6L480.5 80.3L483.9 86.6L480.5 92.9Z" fill="#1a1513"/><text x="405" y="134" font-size="16.6">3'</text><text x="756.4" y="131.6" font-size="16.6">5'</text><text x="458.2" y="137.2" font-size="15.4">CpPUP11</text><path d="M435.5 116L471.5 188" stroke="#82cbd2" stroke-width="1" stroke-dasharray="5.5 4.5" fill="none"/><path d="M572.3 111.5L507 188" stroke="#82cbd2" stroke-width="1" stroke-dasharray="5.5 4.5" fill="none"/><path d="M603.8 111.5L538 188" stroke="#82cbd2" stroke-width="1" stroke-dasharray="5.5 4.5" fill="none"/><path d="M611 146L572 188" stroke="#82cbd2" stroke-width="1" stroke-dasharray="5.5 4.5" fill="none"/><path d="M668.3 111.5L601 188" stroke="#82cbd2" stroke-width="1" stroke-dasharray="5.5 4.5" fill="none"/><path d="M670 147L634 188" stroke="#82cbd2" stroke-width="1" stroke-dasharray="5.5 4.5" fill="none"/><path d="M722 111.5L666 188" stroke="#82cbd2" stroke-width="1" stroke-dasharray="5.5 4.5" fill="none"/><path d="M739.3 111.5L697 188" stroke="#82cbd2" stroke-width="1" stroke-dasharray="5.5 4.5" fill="none"/><path d="M747 169L715 187" stroke="#82cbd2" stroke-width="1" stroke-dasharray="5.5 4.5" fill="none"/><rect x="415.1" y="190.6" width="313.6" height="69.3" fill="#fff" stroke="#c9c9ca" stroke-width="1"/><path d="M415.1 213.8H728.7M415.1 236.9H728.7" stroke="#c9c9ca" stroke-width="1" fill="none"/><text x="417.2" y="209.9" font-size="15.4">hap1:</text><text x="472.8" y="209.9" font-size="15.4" text-anchor="middle">TT</text><text x="502.6" y="209.9" font-size="15.4" text-anchor="middle">AA</text><text x="533.8" y="209.9" font-size="15.4" text-anchor="middle">AA</text><text x="565" y="209.9" font-size="15.4" text-anchor="middle">AA</text><text x="598.5" y="209.9" font-size="15.4" text-anchor="middle">GG</text><text x="629.2" y="209.9" font-size="15.4" text-anchor="middle">TT</text><text x="659.2" y="209.9" font-size="15.4" text-anchor="middle">TT</text><text x="689" y="209.9" font-size="15.4" text-anchor="middle">TT</text><text x="714.2" y="209.9" font-size="15.4" text-anchor="middle">AA</text><text x="417.2" y="232.9" font-size="15.4">hap2:</text><text x="471.2" y="232.9" font-size="15.4" text-anchor="middle">AA</text><text x="503.4" y="232.9" font-size="15.4" text-anchor="middle">TT</text><text x="535.5" y="232.9" font-size="15.4" text-anchor="middle">GG</text><text x="566.8" y="232.9" font-size="15.4" text-anchor="middle">GG</text><text x="596.7" y="232.9" font-size="15.4" text-anchor="middle">AA</text><text x="628.2" y="232.9" font-size="15.4" text-anchor="middle">AA</text><text x="660.3" y="232.9" font-size="15.4" text-anchor="middle">CC</text><text x="690" y="232.9" font-size="15.4" text-anchor="middle">CC</text><text x="716.5" y="232.9" font-size="15.4" text-anchor="middle">CC</text><text x="417.2" y="255.2" font-size="15.4">hap3:</text><text x="471.7" y="255.2" font-size="15.4" text-anchor="middle">TA</text><text x="502.1" y="255.2" font-size="15.4" text-anchor="middle">AT</text><text x="535" y="255.2" font-size="15.4" text-anchor="middle">AG</text><text x="566.2" y="255.2" font-size="15.4" text-anchor="middle">AG</text><text x="597.7" y="255.2" font-size="15.4" text-anchor="middle">GA</text><text x="628.8" y="255.2" font-size="15.4" text-anchor="middle">TA</text><text x="660.2" y="255.2" font-size="15.4" text-anchor="middle">TC</text><text x="689.5" y="255.2" font-size="15.4" text-anchor="middle">TC</text><text x="714.9" y="255.2" font-size="15.4" text-anchor="middle">AC</text></g>
<g id="panelF"><text class="b" x="394" y="307.6">F</text><text transform="translate(410,448) rotate(-90) scale(1,0.97)" font-size="15.9">fruit width (mm)</text><path class="ax" d="M454.5 317.5V477.6H574"/><path class="tk" d="M448 345H454.5"/><text class="t" text-anchor="end" x="444.9" y="348.1">125</text><path class="tk" d="M448 375H454.5"/><text class="t" text-anchor="end" x="444.9" y="378.1">100</text><path class="tk" d="M448 405H454.5"/><text class="t" text-anchor="end" x="444.9" y="408.1">75</text><path class="tk" d="M448 435H454.5"/><text class="t" text-anchor="end" x="444.9" y="438.1">50</text><path class="tk" d="M476.3 477.6V483"/><path class="tk" d="M516.3 477.6V483"/><path class="tk" d="M556 477.6V483"/><path d="M476.8 375V395M476.8 416.3V443.8" stroke="#1a1513" stroke-width="0.9" stroke-dasharray="2.6 1.8" fill="none"/><path d="M472.4 375H481.2M472.4 443.8H481.2" stroke="#1a1513" stroke-width="1.2" fill="none"/><rect x="466.3" y="395" width="21.2" height="21.3" fill="#f5a11a"/><rect x="466.3" y="404.3" width="21.2" height="4" fill="#333"/><path d="M516.2 351.3V381.3M516.2 407V423.8" stroke="#1a1513" stroke-width="0.9" stroke-dasharray="2.6 1.8" fill="none"/><path d="M511.8 351.3H520.6M511.8 423.8H520.6" stroke="#1a1513" stroke-width="1.2" fill="none"/><rect x="505.5" y="381.3" width="21.3" height="25.7" fill="#2cb49e"/><rect x="505.5" y="391.8" width="21.3" height="4" fill="#333"/><path d="M555.8 372.5V390.8M555.8 409.5V435" stroke="#1a1513" stroke-width="0.9" stroke-dasharray="2.6 1.8" fill="none"/><path d="M551.4 372.5H560.2M551.4 435H560.2" stroke="#1a1513" stroke-width="1.2" fill="none"/><rect x="545" y="390.8" width="21.8" height="18.7" fill="#3c97d7"/><rect x="545" y="393.8" width="21.8" height="4" fill="#333"/><path class="br" d="M476.3 343V338H516.3V343"/><path class="br" d="M476.3 318.7V313.3H555.8V318.7"/><text text-anchor="middle" x="492.5" y="332.6" style="font-size:9.8px;font-weight:bold">**</text><text text-anchor="middle" x="515.8" y="308.9" style="font-size:9.8px;font-weight:bold">*</text><text transform="translate(486.5,499) rotate(-30)" text-anchor="end" font-size="15">hap1</text><text class="t" text-anchor="middle" x="466.7" y="534.5">n=177</text><text transform="translate(526.5,499) rotate(-30)" text-anchor="end" font-size="15">hap2</text><text class="t" text-anchor="middle" x="515.3" y="534.5">n=40</text><text transform="translate(566.3,499) rotate(-30)" text-anchor="end" font-size="15">hap3</text><text class="t" text-anchor="middle" x="562" y="534.5">n=35</text></g>
<g id="panelG"><text class="b" x="587.3" y="302.2">G</text><text transform="translate(617.5,469) rotate(-90)" font-size="15.5">Expression level (fpkm)</text><rect x="668.3" y="343" width="21.2" height="125.5" fill="#f5a11a"/><rect x="706.3" y="410" width="20.7" height="58.5" fill="#2cb49e"/><rect x="743.8" y="396.3" width="20.5" height="72.2" fill="#3c97d7"/><path class="ax" d="M657.5 317.5V475.2H779.3"/><path class="tk" d="M651.3 331.8H657.5"/><text class="t" text-anchor="end" x="647.4" y="334.7">1.5</text><path class="tk" d="M651.3 377.2H657.5"/><text class="t" text-anchor="end" x="647.4" y="380.1">1.0</text><path class="tk" d="M651.3 423H657.5"/><text class="t" text-anchor="end" x="647.4" y="425.9">0.5</text><path class="tk" d="M651.3 468.5H657.5"/><text class="t" text-anchor="end" x="647.4" y="471.4">0.0</text><path class="tk" d="M679 475.2V481.2"/><path class="tk" d="M716.5 475.2V481.2"/><path class="tk" d="M754.3 475.2V481.2"/><path class="eb" d="M678.8 333V353.3M673.5 333H684.1M673.5 353.3H684.1"/><path class="eb" d="M716.8 400.8V419.5M711.5 400.8H722.1M711.5 419.5H722.1"/><path class="eb" d="M754.3 385V407.5M749 385H759.6M749 407.5H759.6"/><path class="br" d="M678.8 324.3V319.3H716.8V324.3"/><path class="br" d="M678.8 308V303H754.3V308"/><text text-anchor="middle" x="695.8" y="317.1" style="font-size:9.8px;font-weight:bold">**</text><text text-anchor="middle" x="710.8" y="299.1" style="font-size:9.8px;font-weight:bold">*</text><text transform="translate(688.6,496.5) rotate(-30)" text-anchor="end" font-size="15">hap1</text><text class="t" text-anchor="middle" x="672.3" y="532.8">n=3</text><text transform="translate(726.4,496.5) rotate(-30)" text-anchor="end" font-size="15">hap2</text><text class="t" text-anchor="middle" x="713.3" y="532.8">n=3</text><text transform="translate(764.1,496.5) rotate(-30)" text-anchor="end" font-size="15">hap3</text><text class="t" text-anchor="middle" x="752" y="532.8">n=3</text></g>
<g id="panelH"><text class="b" x="490.4" y="586.4">H</text><text transform="translate(520.9,716.5) rotate(-90)" font-size="17.5">Percentage (%)</text><rect x="571.3" y="588" width="24" height="108.3" fill="#f5a11a"/><rect x="571.3" y="696.3" width="24" height="17.5" fill="#2cb49e"/><rect x="571.3" y="713.8" width="24" height="19.5" fill="#3c97d7"/><rect x="609.4" y="594.3" width="24.2" height="21.5" fill="#f5a11a"/><rect x="609.4" y="615.8" width="24.2" height="104.7" fill="#2cb49e"/><rect x="609.4" y="720.5" width="24.2" height="12.8" fill="#3c97d7"/><rect x="647.6" y="611.3" width="24.4" height="22" fill="#f5a11a"/><rect x="647.6" y="633.3" width="24.4" height="74.2" fill="#2cb49e"/><rect x="647.6" y="707.5" width="24.4" height="25.8" fill="#3c97d7"/><path class="ax" d="M562 576.3V738.2H675.5"/><path class="tk" d="M556.4 585H562"/><text class="t" text-anchor="end" x="552.1" y="590">100</text><path class="tk" d="M556.4 622H562"/><text class="t" text-anchor="end" x="552.1" y="627">75</text><path class="tk" d="M556.4 659.2H562"/><text class="t" text-anchor="end" x="552.1" y="664.2">50</text><path class="tk" d="M556.4 696.3H562"/><text class="t" text-anchor="end" x="552.1" y="701.3">25</text><path class="tk" d="M556.4 733.3H562"/><text class="t" text-anchor="end" x="552.1" y="738.3">0</text><path class="tk" d="M583.6 738.2V743.6"/><path class="tk" d="M621.9 738.2V743.6"/><path class="tk" d="M660.2 738.2V743.6"/><text transform="translate(589.8,756.5) rotate(-35)" text-anchor="end" font-size="15">fruit−type</text><text transform="translate(636.5,755.5) rotate(-35)" text-anchor="end" font-size="15">common−type</text><text transform="translate(667.5,758.5) rotate(-35)" text-anchor="end" font-size="15">wild</text><rect x="681.6" y="667.1" width="15.4" height="15.2" fill="#f5a11a"/><text class="t" x="702.2" y="677.5">hap1</text><rect x="681.6" y="690.7" width="15.4" height="15.2" fill="#2cb49e"/><text class="t" x="702.2" y="701.1">hap2</text><rect x="681.6" y="714.3" width="15.4" height="15.2" fill="#3c97d7"/><text class="t" x="702.2" y="724.7">hap3</text></g>
</svg>
</body></html>
